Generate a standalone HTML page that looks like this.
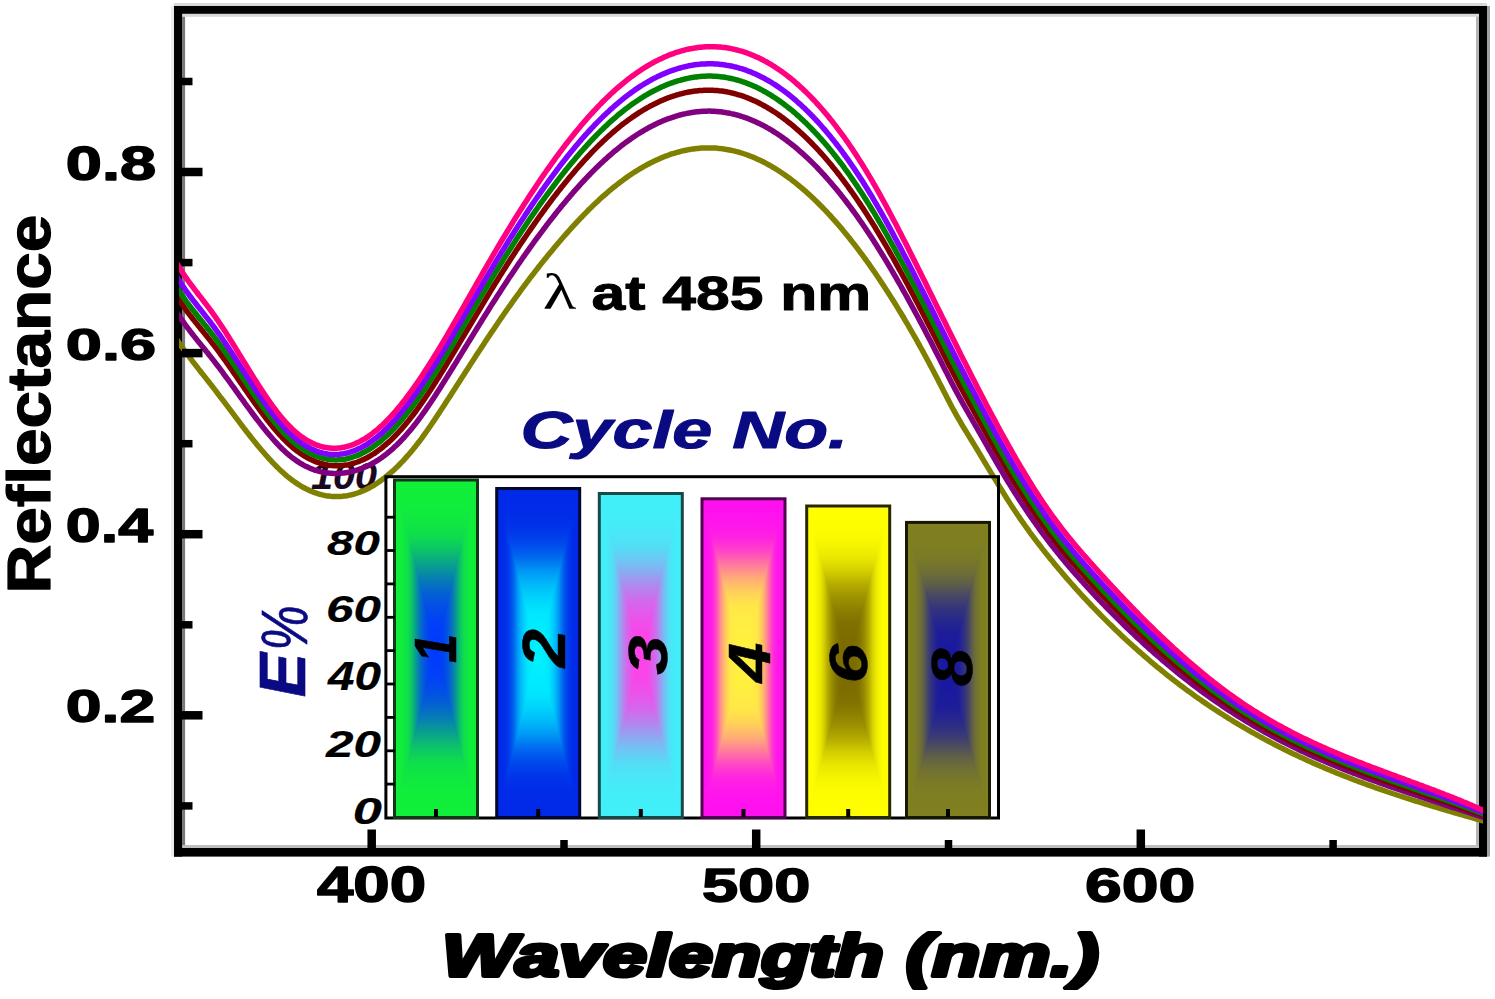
<!DOCTYPE html>
<html><head><meta charset="utf-8"><title>Reflectance</title>
<style>html,body{margin:0;padding:0;background:#fff;} svg{display:block;}</style></head>
<body><svg width="1495" height="999" viewBox="0 0 1495 999">
<rect width="1495" height="999" fill="#fff"/>
<defs><clipPath id="pc"><rect x="179" y="14" width="1304" height="834"/></clipPath>
<linearGradient id="g0H" gradientUnits="userSpaceOnUse" x1="394.50" y1="0" x2="477.50" y2="0"><stop offset="0.0000" stop-color="#10f038"/><stop offset="0.0417" stop-color="#10ee3a"/><stop offset="0.0833" stop-color="#10ed3b"/><stop offset="0.1250" stop-color="#0fe742"/><stop offset="0.1667" stop-color="#0edd4d"/><stop offset="0.2083" stop-color="#0cc369"/><stop offset="0.2500" stop-color="#09a28d"/><stop offset="0.2917" stop-color="#067fb2"/><stop offset="0.3333" stop-color="#0462d2"/><stop offset="0.3750" stop-color="#024fe6"/><stop offset="0.4167" stop-color="#0141f6"/><stop offset="0.4583" stop-color="#003cfa"/><stop offset="0.5000" stop-color="#0038ff"/><stop offset="0.5000" stop-color="#0038ff"/><stop offset="0.5417" stop-color="#003cfa"/><stop offset="0.5833" stop-color="#0141f6"/><stop offset="0.6250" stop-color="#024fe6"/><stop offset="0.6667" stop-color="#0462d2"/><stop offset="0.7083" stop-color="#067fb2"/><stop offset="0.7500" stop-color="#09a28d"/><stop offset="0.7917" stop-color="#0cc369"/><stop offset="0.8333" stop-color="#0edd4d"/><stop offset="0.8750" stop-color="#0fe742"/><stop offset="0.9167" stop-color="#10ed3b"/><stop offset="0.9583" stop-color="#10ee3a"/><stop offset="1.0000" stop-color="#10f038"/></linearGradient><linearGradient id="g0T" gradientUnits="userSpaceOnUse" x1="436.00" y1="480.00" x2="436.00" y2="648.75"><stop offset="0.0000" stop-color="#10f038"/><stop offset="0.0833" stop-color="#10ee3a"/><stop offset="0.1667" stop-color="#10ed3b"/><stop offset="0.2500" stop-color="#0fe742"/><stop offset="0.3333" stop-color="#0edd4d"/><stop offset="0.4167" stop-color="#0cc369"/><stop offset="0.5000" stop-color="#09a28d"/><stop offset="0.5833" stop-color="#067fb2"/><stop offset="0.6667" stop-color="#0462d2"/><stop offset="0.7500" stop-color="#024fe6"/><stop offset="0.8333" stop-color="#0141f6"/><stop offset="0.9167" stop-color="#003cfa"/><stop offset="1.0000" stop-color="#0038ff"/></linearGradient><linearGradient id="g0B" gradientUnits="userSpaceOnUse" x1="436.00" y1="817.50" x2="436.00" y2="648.75"><stop offset="0.0000" stop-color="#10f038"/><stop offset="0.0833" stop-color="#10ee3a"/><stop offset="0.1667" stop-color="#10ed3b"/><stop offset="0.2500" stop-color="#0fe742"/><stop offset="0.3333" stop-color="#0edd4d"/><stop offset="0.4167" stop-color="#0cc369"/><stop offset="0.5000" stop-color="#09a28d"/><stop offset="0.5833" stop-color="#067fb2"/><stop offset="0.6667" stop-color="#0462d2"/><stop offset="0.7500" stop-color="#024fe6"/><stop offset="0.8333" stop-color="#0141f6"/><stop offset="0.9167" stop-color="#003cfa"/><stop offset="1.0000" stop-color="#0038ff"/></linearGradient>
<linearGradient id="g1H" gradientUnits="userSpaceOnUse" x1="496.70" y1="0" x2="579.70" y2="0"><stop offset="0.0000" stop-color="#0028e8"/><stop offset="0.0417" stop-color="#002ae8"/><stop offset="0.0833" stop-color="#002ce8"/><stop offset="0.1250" stop-color="#0035ea"/><stop offset="0.1667" stop-color="#0048ec"/><stop offset="0.2083" stop-color="#0068ef"/><stop offset="0.2500" stop-color="#0096f5"/><stop offset="0.2917" stop-color="#00b9f9"/><stop offset="0.3333" stop-color="#00d3fc"/><stop offset="0.3750" stop-color="#00e6fe"/><stop offset="0.4167" stop-color="#00ebfe"/><stop offset="0.4583" stop-color="#00f0ff"/><stop offset="0.5000" stop-color="#00f0ff"/><stop offset="0.5000" stop-color="#00f0ff"/><stop offset="0.5417" stop-color="#00f0ff"/><stop offset="0.5833" stop-color="#00ebfe"/><stop offset="0.6250" stop-color="#00e6fe"/><stop offset="0.6667" stop-color="#00d3fc"/><stop offset="0.7083" stop-color="#00b9f9"/><stop offset="0.7500" stop-color="#0096f5"/><stop offset="0.7917" stop-color="#0068ef"/><stop offset="0.8333" stop-color="#0048ec"/><stop offset="0.8750" stop-color="#0035ea"/><stop offset="0.9167" stop-color="#002ce8"/><stop offset="0.9583" stop-color="#002ae8"/><stop offset="1.0000" stop-color="#0028e8"/></linearGradient><linearGradient id="g1T" gradientUnits="userSpaceOnUse" x1="538.20" y1="488.50" x2="538.20" y2="653.00"><stop offset="0.0000" stop-color="#0028e8"/><stop offset="0.0833" stop-color="#002ae8"/><stop offset="0.1667" stop-color="#002ce8"/><stop offset="0.2500" stop-color="#0035ea"/><stop offset="0.3333" stop-color="#0048ec"/><stop offset="0.4167" stop-color="#0068ef"/><stop offset="0.5000" stop-color="#0096f5"/><stop offset="0.5833" stop-color="#00b9f9"/><stop offset="0.6667" stop-color="#00d3fc"/><stop offset="0.7500" stop-color="#00e6fe"/><stop offset="0.8333" stop-color="#00ebfe"/><stop offset="0.9167" stop-color="#00f0ff"/><stop offset="1.0000" stop-color="#00f0ff"/></linearGradient><linearGradient id="g1B" gradientUnits="userSpaceOnUse" x1="538.20" y1="817.50" x2="538.20" y2="653.00"><stop offset="0.0000" stop-color="#0028e8"/><stop offset="0.0833" stop-color="#002ae8"/><stop offset="0.1667" stop-color="#002ce8"/><stop offset="0.2500" stop-color="#0035ea"/><stop offset="0.3333" stop-color="#0048ec"/><stop offset="0.4167" stop-color="#0068ef"/><stop offset="0.5000" stop-color="#0096f5"/><stop offset="0.5833" stop-color="#00b9f9"/><stop offset="0.6667" stop-color="#00d3fc"/><stop offset="0.7500" stop-color="#00e6fe"/><stop offset="0.8333" stop-color="#00ebfe"/><stop offset="0.9167" stop-color="#00f0ff"/><stop offset="1.0000" stop-color="#00f0ff"/></linearGradient>
<linearGradient id="g2H" gradientUnits="userSpaceOnUse" x1="599.30" y1="0" x2="682.30" y2="0"><stop offset="0.0000" stop-color="#40f0f8"/><stop offset="0.0417" stop-color="#42eff8"/><stop offset="0.0833" stop-color="#43edf8"/><stop offset="0.1250" stop-color="#4ae7f7"/><stop offset="0.1667" stop-color="#54ddf6"/><stop offset="0.2083" stop-color="#6fc5f4"/><stop offset="0.2500" stop-color="#91a5f1"/><stop offset="0.2917" stop-color="#b584ee"/><stop offset="0.3333" stop-color="#d468ec"/><stop offset="0.3750" stop-color="#e756ea"/><stop offset="0.4167" stop-color="#f648e9"/><stop offset="0.4583" stop-color="#fb44e8"/><stop offset="0.5000" stop-color="#ff40e8"/><stop offset="0.5000" stop-color="#ff40e8"/><stop offset="0.5417" stop-color="#fb44e8"/><stop offset="0.5833" stop-color="#f648e9"/><stop offset="0.6250" stop-color="#e756ea"/><stop offset="0.6667" stop-color="#d468ec"/><stop offset="0.7083" stop-color="#b584ee"/><stop offset="0.7500" stop-color="#91a5f1"/><stop offset="0.7917" stop-color="#6fc5f4"/><stop offset="0.8333" stop-color="#54ddf6"/><stop offset="0.8750" stop-color="#4ae7f7"/><stop offset="0.9167" stop-color="#43edf8"/><stop offset="0.9583" stop-color="#42eff8"/><stop offset="1.0000" stop-color="#40f0f8"/></linearGradient><linearGradient id="g2T" gradientUnits="userSpaceOnUse" x1="640.80" y1="493.50" x2="640.80" y2="655.50"><stop offset="0.0000" stop-color="#40f0f8"/><stop offset="0.0833" stop-color="#42eff8"/><stop offset="0.1667" stop-color="#43edf8"/><stop offset="0.2500" stop-color="#4ae7f7"/><stop offset="0.3333" stop-color="#54ddf6"/><stop offset="0.4167" stop-color="#6fc5f4"/><stop offset="0.5000" stop-color="#91a5f1"/><stop offset="0.5833" stop-color="#b584ee"/><stop offset="0.6667" stop-color="#d468ec"/><stop offset="0.7500" stop-color="#e756ea"/><stop offset="0.8333" stop-color="#f648e9"/><stop offset="0.9167" stop-color="#fb44e8"/><stop offset="1.0000" stop-color="#ff40e8"/></linearGradient><linearGradient id="g2B" gradientUnits="userSpaceOnUse" x1="640.80" y1="817.50" x2="640.80" y2="655.50"><stop offset="0.0000" stop-color="#40f0f8"/><stop offset="0.0833" stop-color="#42eff8"/><stop offset="0.1667" stop-color="#43edf8"/><stop offset="0.2500" stop-color="#4ae7f7"/><stop offset="0.3333" stop-color="#54ddf6"/><stop offset="0.4167" stop-color="#6fc5f4"/><stop offset="0.5000" stop-color="#91a5f1"/><stop offset="0.5833" stop-color="#b584ee"/><stop offset="0.6667" stop-color="#d468ec"/><stop offset="0.7500" stop-color="#e756ea"/><stop offset="0.8333" stop-color="#f648e9"/><stop offset="0.9167" stop-color="#fb44e8"/><stop offset="1.0000" stop-color="#ff40e8"/></linearGradient>
<linearGradient id="g3H" gradientUnits="userSpaceOnUse" x1="702.00" y1="0" x2="785.00" y2="0"><stop offset="0.0000" stop-color="#ff10f0"/><stop offset="0.0417" stop-color="#ff12ee"/><stop offset="0.0833" stop-color="#ff16ec"/><stop offset="0.1250" stop-color="#ff24e0"/><stop offset="0.1667" stop-color="#ff47c5"/><stop offset="0.2083" stop-color="#ff7b9c"/><stop offset="0.2500" stop-color="#ffac76"/><stop offset="0.2917" stop-color="#ffcf5a"/><stop offset="0.3333" stop-color="#ffe648"/><stop offset="0.3750" stop-color="#ffec43"/><stop offset="0.4167" stop-color="#fff040"/><stop offset="0.4583" stop-color="#fff040"/><stop offset="0.5000" stop-color="#fff040"/><stop offset="0.5000" stop-color="#fff040"/><stop offset="0.5417" stop-color="#fff040"/><stop offset="0.5833" stop-color="#fff040"/><stop offset="0.6250" stop-color="#ffec43"/><stop offset="0.6667" stop-color="#ffe648"/><stop offset="0.7083" stop-color="#ffcf5a"/><stop offset="0.7500" stop-color="#ffac76"/><stop offset="0.7917" stop-color="#ff7b9c"/><stop offset="0.8333" stop-color="#ff47c5"/><stop offset="0.8750" stop-color="#ff24e0"/><stop offset="0.9167" stop-color="#ff16ec"/><stop offset="0.9583" stop-color="#ff12ee"/><stop offset="1.0000" stop-color="#ff10f0"/></linearGradient><linearGradient id="g3T" gradientUnits="userSpaceOnUse" x1="743.50" y1="498.80" x2="743.50" y2="658.15"><stop offset="0.0000" stop-color="#ff10f0"/><stop offset="0.0833" stop-color="#ff12ee"/><stop offset="0.1667" stop-color="#ff16ec"/><stop offset="0.2500" stop-color="#ff24e0"/><stop offset="0.3333" stop-color="#ff47c5"/><stop offset="0.4167" stop-color="#ff7b9c"/><stop offset="0.5000" stop-color="#ffac76"/><stop offset="0.5833" stop-color="#ffcf5a"/><stop offset="0.6667" stop-color="#ffe648"/><stop offset="0.7500" stop-color="#ffec43"/><stop offset="0.8333" stop-color="#fff040"/><stop offset="0.9167" stop-color="#fff040"/><stop offset="1.0000" stop-color="#fff040"/></linearGradient><linearGradient id="g3B" gradientUnits="userSpaceOnUse" x1="743.50" y1="817.50" x2="743.50" y2="658.15"><stop offset="0.0000" stop-color="#ff10f0"/><stop offset="0.0833" stop-color="#ff12ee"/><stop offset="0.1667" stop-color="#ff16ec"/><stop offset="0.2500" stop-color="#ff24e0"/><stop offset="0.3333" stop-color="#ff47c5"/><stop offset="0.4167" stop-color="#ff7b9c"/><stop offset="0.5000" stop-color="#ffac76"/><stop offset="0.5833" stop-color="#ffcf5a"/><stop offset="0.6667" stop-color="#ffe648"/><stop offset="0.7500" stop-color="#ffec43"/><stop offset="0.8333" stop-color="#fff040"/><stop offset="0.9167" stop-color="#fff040"/><stop offset="1.0000" stop-color="#fff040"/></linearGradient>
<linearGradient id="g4H" gradientUnits="userSpaceOnUse" x1="806.70" y1="0" x2="889.70" y2="0"><stop offset="0.0000" stop-color="#ffff00"/><stop offset="0.0417" stop-color="#fefe00"/><stop offset="0.0833" stop-color="#fdfc00"/><stop offset="0.1250" stop-color="#f6f500"/><stop offset="0.1667" stop-color="#eae700"/><stop offset="0.2083" stop-color="#d4cf00"/><stop offset="0.2500" stop-color="#b6ad00"/><stop offset="0.2917" stop-color="#9e9300"/><stop offset="0.3333" stop-color="#8d7f00"/><stop offset="0.3750" stop-color="#807100"/><stop offset="0.4167" stop-color="#7d6d00"/><stop offset="0.4583" stop-color="#7a6a00"/><stop offset="0.5000" stop-color="#7a6a00"/><stop offset="0.5000" stop-color="#7a6a00"/><stop offset="0.5417" stop-color="#7a6a00"/><stop offset="0.5833" stop-color="#7d6d00"/><stop offset="0.6250" stop-color="#807100"/><stop offset="0.6667" stop-color="#8d7f00"/><stop offset="0.7083" stop-color="#9e9300"/><stop offset="0.7500" stop-color="#b6ad00"/><stop offset="0.7917" stop-color="#d4cf00"/><stop offset="0.8333" stop-color="#eae700"/><stop offset="0.8750" stop-color="#f6f500"/><stop offset="0.9167" stop-color="#fdfc00"/><stop offset="0.9583" stop-color="#fefe00"/><stop offset="1.0000" stop-color="#ffff00"/></linearGradient><linearGradient id="g4T" gradientUnits="userSpaceOnUse" x1="848.20" y1="506.00" x2="848.20" y2="661.75"><stop offset="0.0000" stop-color="#ffff00"/><stop offset="0.0833" stop-color="#fefe00"/><stop offset="0.1667" stop-color="#fdfc00"/><stop offset="0.2500" stop-color="#f6f500"/><stop offset="0.3333" stop-color="#eae700"/><stop offset="0.4167" stop-color="#d4cf00"/><stop offset="0.5000" stop-color="#b6ad00"/><stop offset="0.5833" stop-color="#9e9300"/><stop offset="0.6667" stop-color="#8d7f00"/><stop offset="0.7500" stop-color="#807100"/><stop offset="0.8333" stop-color="#7d6d00"/><stop offset="0.9167" stop-color="#7a6a00"/><stop offset="1.0000" stop-color="#7a6a00"/></linearGradient><linearGradient id="g4B" gradientUnits="userSpaceOnUse" x1="848.20" y1="817.50" x2="848.20" y2="661.75"><stop offset="0.0000" stop-color="#ffff00"/><stop offset="0.0833" stop-color="#fefe00"/><stop offset="0.1667" stop-color="#fdfc00"/><stop offset="0.2500" stop-color="#f6f500"/><stop offset="0.3333" stop-color="#eae700"/><stop offset="0.4167" stop-color="#d4cf00"/><stop offset="0.5000" stop-color="#b6ad00"/><stop offset="0.5833" stop-color="#9e9300"/><stop offset="0.6667" stop-color="#8d7f00"/><stop offset="0.7500" stop-color="#807100"/><stop offset="0.8333" stop-color="#7d6d00"/><stop offset="0.9167" stop-color="#7a6a00"/><stop offset="1.0000" stop-color="#7a6a00"/></linearGradient>
<linearGradient id="g5H" gradientUnits="userSpaceOnUse" x1="906.50" y1="0" x2="989.50" y2="0"><stop offset="0.0000" stop-color="#808020"/><stop offset="0.0417" stop-color="#7f7f21"/><stop offset="0.0833" stop-color="#7e7e22"/><stop offset="0.1250" stop-color="#797928"/><stop offset="0.1667" stop-color="#6f6f35"/><stop offset="0.2083" stop-color="#5f5f49"/><stop offset="0.2500" stop-color="#474766"/><stop offset="0.2917" stop-color="#34347d"/><stop offset="0.3333" stop-color="#27278e"/><stop offset="0.3750" stop-color="#1d1d9a"/><stop offset="0.4167" stop-color="#1a1a9d"/><stop offset="0.4583" stop-color="#1818a0"/><stop offset="0.5000" stop-color="#1818a0"/><stop offset="0.5000" stop-color="#1818a0"/><stop offset="0.5417" stop-color="#1818a0"/><stop offset="0.5833" stop-color="#1a1a9d"/><stop offset="0.6250" stop-color="#1d1d9a"/><stop offset="0.6667" stop-color="#27278e"/><stop offset="0.7083" stop-color="#34347d"/><stop offset="0.7500" stop-color="#474766"/><stop offset="0.7917" stop-color="#5f5f49"/><stop offset="0.8333" stop-color="#6f6f35"/><stop offset="0.8750" stop-color="#797928"/><stop offset="0.9167" stop-color="#7e7e22"/><stop offset="0.9583" stop-color="#7f7f21"/><stop offset="1.0000" stop-color="#808020"/></linearGradient><linearGradient id="g5T" gradientUnits="userSpaceOnUse" x1="948.00" y1="522.40" x2="948.00" y2="669.95"><stop offset="0.0000" stop-color="#808020"/><stop offset="0.0833" stop-color="#7f7f21"/><stop offset="0.1667" stop-color="#7e7e22"/><stop offset="0.2500" stop-color="#797928"/><stop offset="0.3333" stop-color="#6f6f35"/><stop offset="0.4167" stop-color="#5f5f49"/><stop offset="0.5000" stop-color="#474766"/><stop offset="0.5833" stop-color="#34347d"/><stop offset="0.6667" stop-color="#27278e"/><stop offset="0.7500" stop-color="#1d1d9a"/><stop offset="0.8333" stop-color="#1a1a9d"/><stop offset="0.9167" stop-color="#1818a0"/><stop offset="1.0000" stop-color="#1818a0"/></linearGradient><linearGradient id="g5B" gradientUnits="userSpaceOnUse" x1="948.00" y1="817.50" x2="948.00" y2="669.95"><stop offset="0.0000" stop-color="#808020"/><stop offset="0.0833" stop-color="#7f7f21"/><stop offset="0.1667" stop-color="#7e7e22"/><stop offset="0.2500" stop-color="#797928"/><stop offset="0.3333" stop-color="#6f6f35"/><stop offset="0.4167" stop-color="#5f5f49"/><stop offset="0.5000" stop-color="#474766"/><stop offset="0.5833" stop-color="#34347d"/><stop offset="0.6667" stop-color="#27278e"/><stop offset="0.7500" stop-color="#1d1d9a"/><stop offset="0.8333" stop-color="#1a1a9d"/><stop offset="0.9167" stop-color="#1818a0"/><stop offset="1.0000" stop-color="#1818a0"/></linearGradient>
</defs>
<g transform="matrix(1.01562,0,0,1.04167,-5.891,-20.375)"><text transform="matrix(0.38852,0,0,0.35063,312.097,488.562)" font-family='"Liberation Sans", sans-serif' font-weight="bold" font-style="italic" font-size="100" fill="#1a0820" stroke="#1a0820" stroke-width="0.5" stroke-linejoin="round">100</text></g>
<rect x="171" y="6" width="3" height="850.6" fill="#ececec"/>
<rect x="182.1" y="14" width="3" height="834" fill="#7a7a7a"/>
<rect x="1476" y="14" width="3" height="834" fill="#b4b4b4"/>
<rect x="1487" y="6" width="3" height="850.6" fill="#a0a0a0"/>
<rect x="174" y="3" width="1313" height="3" fill="#d8d8d8"/>
<rect x="182" y="13.8" width="1297" height="3" fill="#d8d8d8"/>
<rect x="182" y="845" width="1297" height="3" fill="#bebebe"/>
<rect x="174" y="6" width="1313" height="7.8" fill="#000"/>
<rect x="174" y="848" width="1313" height="8.6" fill="#000"/>
<rect x="174" y="6" width="8.1" height="850.6" fill="#000"/>
<rect x="1479" y="6" width="8" height="850.6" fill="#000"/>
<g clip-path="url(#pc)" fill="none" stroke-width="5.5" stroke-linejoin="round">
<polyline stroke="#808000" points="170.0,329.2 171.5,331.6 173.0,333.9 174.5,336.2 176.0,338.4 177.5,340.6 179.0,342.8 180.5,345.0 182.0,347.1 183.5,349.2 185.0,351.2 186.5,353.2 188.0,355.2 189.5,357.2 191.0,359.2 192.5,361.2 194.0,363.1 195.5,365.0 197.0,366.9 198.5,368.9 200.0,370.8 201.5,372.7 203.0,374.6 204.5,376.5 206.0,378.3 207.5,380.3 209.0,382.2 210.5,384.1 212.0,386.0 213.5,387.9 215.0,389.9 216.5,391.8 218.0,393.8 219.5,395.8 221.0,397.8 222.5,399.7 224.0,401.7 225.5,403.7 227.0,405.7 228.5,407.7 230.0,409.7 231.5,411.7 233.0,413.7 234.5,415.7 236.0,417.7 237.5,419.7 239.0,421.7 240.5,423.7 242.0,425.6 243.5,427.6 245.0,429.5 246.5,431.5 248.0,433.4 249.5,435.3 251.0,437.2 252.5,439.1 254.0,441.0 255.5,442.8 257.0,444.7 258.5,446.5 260.0,448.3 261.5,450.1 263.0,451.8 264.5,453.5 266.0,455.2 267.5,456.9 269.0,458.6 270.5,460.2 272.0,461.8 273.5,463.4 275.0,464.9 276.5,466.5 278.0,467.9 279.5,469.4 281.0,470.8 282.5,472.2 284.0,473.5 285.5,474.8 287.0,476.1 288.5,477.3 290.0,478.5 291.5,479.7 293.0,480.8 294.5,481.9 296.0,482.9 297.5,483.9 299.0,484.8 300.5,485.8 302.0,486.7 303.5,487.5 305.0,488.3 306.5,489.1 308.0,489.8 309.5,490.5 311.0,491.2 312.5,491.8 314.0,492.4 315.5,492.9 317.0,493.4 318.5,493.9 320.0,494.3 321.5,494.7 323.0,495.1 324.5,495.4 326.0,495.7 327.5,495.9 329.0,496.1 330.5,496.3 332.0,496.4 333.5,496.5 335.0,496.6 336.5,496.6 338.0,496.6 339.5,496.5 341.0,496.4 342.5,496.3 344.0,496.1 345.5,495.9 347.0,495.7 348.5,495.4 350.0,495.1 351.5,494.8 353.0,494.4 354.5,494.0 356.0,493.5 357.5,493.0 359.0,492.5 360.5,491.9 362.0,491.3 363.5,490.7 365.0,490.0 366.5,489.3 368.0,488.5 369.5,487.7 371.0,486.9 372.5,486.0 374.0,485.2 375.5,484.2 377.0,483.3 378.5,482.3 380.0,481.2 381.5,480.1 383.0,479.0 384.5,477.9 386.0,476.7 387.5,475.5 389.0,474.2 390.5,473.0 392.0,471.6 393.5,470.3 395.0,468.9 396.5,467.4 398.0,466.0 399.5,464.5 401.0,462.9 402.5,461.4 404.0,459.8 405.5,458.1 407.0,456.4 408.5,454.7 410.0,453.0 411.5,451.2 413.0,449.4 414.5,447.5 416.0,445.7 417.5,443.7 419.0,441.8 420.5,439.8 422.0,437.8 423.5,435.7 425.0,433.6 426.5,431.5 428.0,429.4 429.5,427.2 431.0,425.0 432.5,422.8 434.0,420.6 435.5,418.4 437.0,416.1 438.5,413.9 440.0,411.6 441.5,409.3 443.0,407.0 444.5,404.7 446.0,402.3 447.5,400.0 449.0,397.7 450.5,395.4 452.0,393.0 453.5,390.7 455.0,388.4 456.5,386.0 458.0,383.7 459.5,381.4 461.0,379.0 462.5,376.7 464.0,374.4 465.5,372.0 467.0,369.7 468.5,367.4 470.0,365.1 471.5,362.8 473.0,360.5 474.5,358.2 476.0,355.8 477.5,353.5 479.0,351.3 480.5,349.0 482.0,346.7 483.5,344.4 485.0,342.1 486.5,339.9 488.0,337.6 489.5,335.4 491.0,333.1 492.5,330.9 494.0,328.7 495.5,326.4 497.0,324.2 498.5,322.0 500.0,319.8 501.5,317.6 503.0,315.5 504.5,313.3 506.0,311.1 507.5,309.0 509.0,306.9 510.5,304.8 512.0,302.6 513.5,300.5 515.0,298.5 516.5,296.4 518.0,294.3 519.5,292.3 521.0,290.2 522.5,288.2 524.0,286.2 525.5,284.1 527.0,282.1 528.5,280.2 530.0,278.2 531.5,276.2 533.0,274.3 534.5,272.3 536.0,270.4 537.5,268.5 539.0,266.5 540.5,264.6 542.0,262.8 543.5,260.9 545.0,259.0 546.5,257.2 548.0,255.3 549.5,253.5 551.0,251.7 552.5,249.9 554.0,248.1 555.5,246.3 557.0,244.5 558.5,242.7 560.0,241.0 561.5,239.2 563.0,237.5 564.5,235.8 566.0,234.1 567.5,232.4 569.0,230.7 570.5,229.0 572.0,227.4 573.5,225.7 575.0,224.1 576.5,222.5 578.0,220.9 579.5,219.3 581.0,217.7 582.5,216.2 584.0,214.6 585.5,213.1 587.0,211.6 588.5,210.0 590.0,208.6 591.5,207.1 593.0,205.6 594.5,204.2 596.0,202.8 597.5,201.4 599.0,200.0 600.5,198.6 602.0,197.2 603.5,195.9 605.0,194.6 606.5,193.3 608.0,192.0 609.5,190.7 611.0,189.5 612.5,188.2 614.0,187.0 615.5,185.8 617.0,184.6 618.5,183.5 620.0,182.3 621.5,181.2 623.0,180.1 624.5,179.0 626.0,177.9 627.5,176.9 629.0,175.8 630.5,174.8 632.0,173.8 633.5,172.8 635.0,171.8 636.5,170.9 638.0,170.0 639.5,169.0 641.0,168.2 642.5,167.3 644.0,166.4 645.5,165.6 647.0,164.8 648.5,164.0 650.0,163.2 651.5,162.4 653.0,161.7 654.5,160.9 656.0,160.2 657.5,159.6 659.0,158.9 660.5,158.2 662.0,157.6 663.5,157.0 665.0,156.4 666.5,155.8 668.0,155.3 669.5,154.7 671.0,154.2 672.5,153.7 674.0,153.3 675.5,152.8 677.0,152.4 678.5,152.0 680.0,151.6 681.5,151.2 683.0,150.8 684.5,150.5 686.0,150.2 687.5,149.9 689.0,149.6 690.5,149.4 692.0,149.1 693.5,148.9 695.0,148.7 696.5,148.5 698.0,148.4 699.5,148.2 701.0,148.1 702.5,148.0 704.0,148.0 705.5,147.9 707.0,147.9 708.5,147.9 710.0,147.9 711.5,147.9 713.0,148.0 714.5,148.0 716.0,148.1 717.5,148.3 719.0,148.4 720.5,148.6 722.0,148.7 723.5,148.9 725.0,149.2 726.5,149.4 728.0,149.7 729.5,150.0 731.0,150.3 732.5,150.6 734.0,150.9 735.5,151.3 737.0,151.7 738.5,152.1 740.0,152.5 741.5,153.0 743.0,153.5 744.5,154.0 746.0,154.5 747.5,155.0 749.0,155.6 750.5,156.2 752.0,156.8 753.5,157.4 755.0,158.0 756.5,158.7 758.0,159.4 759.5,160.1 761.0,160.8 762.5,161.5 764.0,162.3 765.5,163.1 767.0,163.9 768.5,164.7 770.0,165.5 771.5,166.4 773.0,167.3 774.5,168.2 776.0,169.1 777.5,170.0 779.0,171.0 780.5,172.0 782.0,173.0 783.5,174.0 785.0,175.1 786.5,176.1 788.0,177.2 789.5,178.3 791.0,179.4 792.5,180.6 794.0,181.7 795.5,182.9 797.0,184.1 798.5,185.3 800.0,186.6 801.5,187.8 803.0,189.1 804.5,190.4 806.0,191.7 807.5,193.1 809.0,194.4 810.5,195.8 812.0,197.2 813.5,198.6 815.0,200.1 816.5,201.5 818.0,203.0 819.5,204.5 821.0,206.0 822.5,207.5 824.0,209.1 825.5,210.6 827.0,212.2 828.5,213.8 830.0,215.4 831.5,217.1 833.0,218.8 834.5,220.4 836.0,222.1 837.5,223.8 839.0,225.6 840.5,227.3 842.0,229.1 843.5,230.9 845.0,232.7 846.5,234.6 848.0,236.4 849.5,238.3 851.0,240.2 852.5,242.1 854.0,244.0 855.5,245.9 857.0,247.9 858.5,249.9 860.0,251.9 861.5,253.9 863.0,255.9 864.5,258.0 866.0,260.0 867.5,262.1 869.0,264.2 870.5,266.3 872.0,268.5 873.5,270.6 875.0,272.8 876.5,275.0 878.0,277.2 879.5,279.5 881.0,281.7 882.5,284.0 884.0,286.2 885.5,288.6 887.0,290.9 888.5,293.2 890.0,295.6 891.5,297.9 893.0,300.3 894.5,302.7 896.0,305.2 897.5,307.6 899.0,310.1 900.5,312.5 902.0,315.0 903.5,317.5 905.0,320.1 906.5,322.6 908.0,325.2 909.5,327.8 911.0,330.4 912.5,333.0 914.0,335.6 915.5,338.2 917.0,340.9 918.5,343.6 920.0,346.3 921.5,349.0 923.0,351.7 924.5,354.5 926.0,357.3 927.5,360.0 929.0,362.8 930.5,365.7 932.0,368.5 933.5,371.3 935.0,374.2 936.5,377.1 938.0,380.0 939.5,382.9 941.0,385.8 942.5,388.8 944.0,391.7 945.5,394.6 947.0,397.6 948.5,400.4 950.0,403.3 951.5,406.2 953.0,409.0 954.5,411.7 956.0,414.4 957.5,417.1 959.0,419.7 960.5,422.2 962.0,424.8 963.5,427.3 965.0,429.7 966.5,432.2 968.0,434.7 969.5,437.1 971.0,439.5 972.5,442.0 974.0,444.4 975.5,446.9 977.0,449.3 978.5,451.8 980.0,454.3 981.5,456.8 983.0,459.3 984.5,461.8 986.0,464.3 987.5,466.8 989.0,469.3 990.5,471.8 992.0,474.3 993.5,476.7 995.0,479.2 996.5,481.7 998.0,484.2 999.5,486.6 1001.0,489.0 1002.5,491.5 1004.0,493.9 1005.5,496.3 1007.0,498.7 1008.5,501.0 1010.0,503.4 1011.5,505.7 1013.0,508.0 1014.5,510.2 1016.0,512.5 1017.5,514.7 1019.0,516.9 1020.5,519.1 1022.0,521.3 1023.5,523.4 1025.0,525.5 1026.5,527.6 1028.0,529.7 1029.5,531.8 1031.0,533.8 1032.5,535.8 1034.0,537.8 1035.5,539.8 1037.0,541.8 1038.5,543.8 1040.0,545.7 1041.5,547.7 1043.0,549.6 1044.5,551.5 1046.0,553.4 1047.5,555.3 1049.0,557.1 1050.5,559.0 1052.0,560.8 1053.5,562.6 1055.0,564.5 1056.5,566.3 1058.0,568.1 1059.5,569.8 1061.0,571.6 1062.5,573.4 1064.0,575.1 1065.5,576.9 1067.0,578.6 1068.5,580.3 1070.0,582.0 1071.5,583.7 1073.0,585.4 1074.5,587.1 1076.0,588.8 1077.5,590.4 1079.0,592.1 1080.5,593.7 1082.0,595.4 1083.5,597.0 1085.0,598.6 1086.5,600.2 1088.0,601.8 1089.5,603.4 1091.0,605.0 1092.5,606.6 1094.0,608.1 1095.5,609.7 1097.0,611.3 1098.5,612.8 1100.0,614.3 1101.5,615.9 1103.0,617.4 1104.5,618.9 1106.0,620.4 1107.5,621.9 1109.0,623.4 1110.5,624.8 1112.0,626.3 1113.5,627.8 1115.0,629.2 1116.5,630.7 1118.0,632.1 1119.5,633.5 1121.0,635.0 1122.5,636.4 1124.0,637.8 1125.5,639.2 1127.0,640.6 1128.5,641.9 1130.0,643.3 1131.5,644.7 1133.0,646.0 1134.5,647.4 1136.0,648.7 1137.5,650.1 1139.0,651.4 1140.5,652.7 1142.0,654.0 1143.5,655.3 1145.0,656.6 1146.5,657.9 1148.0,659.2 1149.5,660.5 1151.0,661.8 1152.5,663.0 1154.0,664.3 1155.5,665.5 1157.0,666.8 1158.5,668.0 1160.0,669.2 1161.5,670.5 1163.0,671.7 1164.5,672.9 1166.0,674.1 1167.5,675.3 1169.0,676.5 1170.5,677.6 1172.0,678.8 1173.5,680.0 1175.0,681.1 1176.5,682.3 1178.0,683.4 1179.5,684.6 1181.0,685.7 1182.5,686.8 1184.0,687.9 1185.5,689.1 1187.0,690.2 1188.5,691.3 1190.0,692.3 1191.5,693.4 1193.0,694.5 1194.5,695.6 1196.0,696.7 1197.5,697.7 1199.0,698.8 1200.5,699.8 1202.0,700.9 1203.5,701.9 1205.0,702.9 1206.5,703.9 1208.0,705.0 1209.5,706.0 1211.0,707.0 1212.5,708.0 1214.0,709.0 1215.5,710.0 1217.0,710.9 1218.5,711.9 1220.0,712.9 1221.5,713.8 1223.0,714.8 1224.5,715.8 1226.0,716.7 1227.5,717.6 1229.0,718.6 1230.5,719.5 1232.0,720.4 1233.5,721.4 1235.0,722.3 1236.5,723.2 1238.0,724.1 1239.5,725.0 1241.0,725.9 1242.5,726.7 1244.0,727.6 1245.5,728.5 1247.0,729.4 1248.5,730.2 1250.0,731.1 1251.5,732.0 1253.0,732.8 1254.5,733.6 1256.0,734.5 1257.5,735.3 1259.0,736.1 1260.5,737.0 1262.0,737.8 1263.5,738.6 1265.0,739.4 1266.5,740.2 1268.0,741.0 1269.5,741.8 1271.0,742.6 1272.5,743.4 1274.0,744.2 1275.5,744.9 1277.0,745.7 1278.5,746.5 1280.0,747.2 1281.5,748.0 1283.0,748.7 1284.5,749.5 1286.0,750.2 1287.5,751.0 1289.0,751.7 1290.5,752.4 1292.0,753.2 1293.5,753.9 1295.0,754.6 1296.5,755.3 1298.0,756.0 1299.5,756.7 1301.0,757.4 1302.5,758.1 1304.0,758.8 1305.5,759.5 1307.0,760.2 1308.5,760.9 1310.0,761.5 1311.5,762.2 1313.0,762.9 1314.5,763.6 1316.0,764.2 1317.5,764.9 1319.0,765.5 1320.5,766.2 1322.0,766.8 1323.5,767.5 1325.0,768.1 1326.5,768.7 1328.0,769.4 1329.5,770.0 1331.0,770.6 1332.5,771.2 1334.0,771.8 1335.5,772.5 1337.0,773.1 1338.5,773.7 1340.0,774.3 1341.5,774.9 1343.0,775.5 1344.5,776.1 1346.0,776.7 1347.5,777.2 1349.0,777.8 1350.5,778.4 1352.0,779.0 1353.5,779.6 1355.0,780.1 1356.5,780.7 1358.0,781.3 1359.5,781.8 1361.0,782.4 1362.5,782.9 1364.0,783.5 1365.5,784.0 1367.0,784.6 1368.5,785.1 1370.0,785.7 1371.5,786.2 1373.0,786.7 1374.5,787.3 1376.0,787.8 1377.5,788.3 1379.0,788.9 1380.5,789.4 1382.0,789.9 1383.5,790.4 1385.0,790.9 1386.5,791.5 1388.0,792.0 1389.5,792.5 1391.0,793.0 1392.5,793.5 1394.0,794.0 1395.5,794.5 1397.0,795.0 1398.5,795.5 1400.0,796.0 1401.5,796.5 1403.0,796.9 1404.5,797.4 1406.0,797.9 1407.5,798.4 1409.0,798.9 1410.5,799.4 1412.0,799.8 1413.5,800.3 1415.0,800.8 1416.5,801.3 1418.0,801.7 1419.5,802.2 1421.0,802.7 1422.5,803.1 1424.0,803.6 1425.5,804.1 1427.0,804.5 1428.5,805.0 1430.0,805.4 1431.5,805.9 1433.0,806.3 1434.5,806.8 1436.0,807.2 1437.5,807.7 1439.0,808.1 1440.5,808.6 1442.0,809.0 1443.5,809.5 1445.0,809.9 1446.5,810.4 1448.0,810.8 1449.5,811.2 1451.0,811.7 1452.5,812.1 1454.0,812.6 1455.5,813.0 1457.0,813.4 1458.5,813.9 1460.0,814.3 1461.5,814.7 1463.0,815.2 1464.5,815.6 1466.0,816.0 1467.5,816.4 1469.0,816.9 1470.5,817.3 1472.0,817.7 1473.5,818.2 1475.0,818.6 1476.5,819.0 1478.0,819.4 1479.5,819.9 1481.0,820.3 1482.5,820.7 1484.0,821.1 1485.5,821.5 1487.0,822.0 1488.5,822.4 1490.0,822.8 1491.5,823.2 1493.0,823.7 1494.5,824.1"/>
<polyline stroke="#800080" points="170.0,301.4 171.5,303.9 173.0,306.4 174.5,308.8 176.0,311.2 177.5,313.5 179.0,315.8 180.5,318.0 182.0,320.1 183.5,322.2 185.0,324.3 186.5,326.4 188.0,328.4 189.5,330.3 191.0,332.3 192.5,334.2 194.0,336.1 195.5,338.0 197.0,339.9 198.5,341.7 200.0,343.6 201.5,345.4 203.0,347.3 204.5,349.1 206.0,351.0 207.5,352.8 209.0,354.7 210.5,356.6 212.0,358.5 213.5,360.4 215.0,362.3 216.5,364.3 218.0,366.2 219.5,368.2 221.0,370.2 222.5,372.2 224.0,374.3 225.5,376.3 227.0,378.4 228.5,380.4 230.0,382.5 231.5,384.6 233.0,386.6 234.5,388.7 236.0,390.8 237.5,392.9 239.0,395.0 240.5,397.1 242.0,399.1 243.5,401.2 245.0,403.3 246.5,405.3 248.0,407.4 249.5,409.4 251.0,411.5 252.5,413.5 254.0,415.5 255.5,417.5 257.0,419.5 258.5,421.4 260.0,423.4 261.5,425.3 263.0,427.2 264.5,429.1 266.0,430.9 267.5,432.7 269.0,434.5 270.5,436.3 272.0,438.0 273.5,439.7 275.0,441.4 276.5,443.0 278.0,444.6 279.5,446.2 281.0,447.7 282.5,449.2 284.0,450.6 285.5,452.0 287.0,453.3 288.5,454.6 290.0,455.9 291.5,457.1 293.0,458.2 294.5,459.3 296.0,460.4 297.5,461.4 299.0,462.4 300.5,463.3 302.0,464.2 303.5,465.1 305.0,465.9 306.5,466.6 308.0,467.3 309.5,468.0 311.0,468.6 312.5,469.2 314.0,469.8 315.5,470.3 317.0,470.7 318.5,471.2 320.0,471.6 321.5,471.9 323.0,472.2 324.5,472.5 326.0,472.7 327.5,472.9 329.0,473.1 330.5,473.2 332.0,473.3 333.5,473.4 335.0,473.4 336.5,473.4 338.0,473.4 339.5,473.3 341.0,473.2 342.5,473.1 344.0,472.9 345.5,472.7 347.0,472.5 348.5,472.2 350.0,471.9 351.5,471.5 353.0,471.2 354.5,470.8 356.0,470.3 357.5,469.9 359.0,469.4 360.5,468.8 362.0,468.3 363.5,467.7 365.0,467.0 366.5,466.4 368.0,465.7 369.5,464.9 371.0,464.2 372.5,463.3 374.0,462.5 375.5,461.6 377.0,460.7 378.5,459.7 380.0,458.7 381.5,457.7 383.0,456.6 384.5,455.5 386.0,454.4 387.5,453.2 389.0,451.9 390.5,450.7 392.0,449.4 393.5,448.0 395.0,446.6 396.5,445.2 398.0,443.7 399.5,442.2 401.0,440.7 402.5,439.1 404.0,437.5 405.5,435.8 407.0,434.1 408.5,432.3 410.0,430.6 411.5,428.7 413.0,426.9 414.5,425.0 416.0,423.1 417.5,421.1 419.0,419.1 420.5,417.1 422.0,415.0 423.5,412.9 425.0,410.8 426.5,408.6 428.0,406.4 429.5,404.2 431.0,402.0 432.5,399.7 434.0,397.5 435.5,395.2 437.0,392.8 438.5,390.5 440.0,388.2 441.5,385.8 443.0,383.4 444.5,381.0 446.0,378.6 447.5,376.2 449.0,373.8 450.5,371.4 452.0,369.0 453.5,366.5 455.0,364.1 456.5,361.7 458.0,359.2 459.5,356.8 461.0,354.4 462.5,351.9 464.0,349.5 465.5,347.0 467.0,344.6 468.5,342.1 470.0,339.7 471.5,337.3 473.0,334.8 474.5,332.4 476.0,330.0 477.5,327.5 479.0,325.1 480.5,322.7 482.0,320.3 483.5,317.9 485.0,315.5 486.5,313.1 488.0,310.7 489.5,308.3 491.0,305.9 492.5,303.6 494.0,301.2 495.5,298.9 497.0,296.5 498.5,294.2 500.0,291.9 501.5,289.6 503.0,287.2 504.5,285.0 506.0,282.7 507.5,280.4 509.0,278.1 510.5,275.9 512.0,273.7 513.5,271.4 515.0,269.2 516.5,267.0 518.0,264.8 519.5,262.6 521.0,260.5 522.5,258.3 524.0,256.1 525.5,254.0 527.0,251.9 528.5,249.8 530.0,247.7 531.5,245.6 533.0,243.5 534.5,241.4 536.0,239.4 537.5,237.3 539.0,235.3 540.5,233.3 542.0,231.3 543.5,229.3 545.0,227.3 546.5,225.3 548.0,223.4 549.5,221.4 551.0,219.5 552.5,217.6 554.0,215.7 555.5,213.8 557.0,211.9 558.5,210.0 560.0,208.2 561.5,206.3 563.0,204.5 564.5,202.7 566.0,200.9 567.5,199.1 569.0,197.4 570.5,195.6 572.0,193.9 573.5,192.1 575.0,190.4 576.5,188.7 578.0,187.1 579.5,185.4 581.0,183.7 582.5,182.1 584.0,180.5 585.5,178.9 587.0,177.3 588.5,175.7 590.0,174.2 591.5,172.6 593.0,171.1 594.5,169.6 596.0,168.1 597.5,166.7 599.0,165.2 600.5,163.8 602.0,162.4 603.5,161.0 605.0,159.6 606.5,158.3 608.0,156.9 609.5,155.6 611.0,154.3 612.5,153.0 614.0,151.7 615.5,150.5 617.0,149.3 618.5,148.1 620.0,146.9 621.5,145.7 623.0,144.5 624.5,143.4 626.0,142.3 627.5,141.2 629.0,140.1 630.5,139.1 632.0,138.0 633.5,137.0 635.0,136.0 636.5,135.0 638.0,134.0 639.5,133.1 641.0,132.2 642.5,131.3 644.0,130.4 645.5,129.5 647.0,128.7 648.5,127.8 650.0,127.0 651.5,126.2 653.0,125.5 654.5,124.7 656.0,124.0 657.5,123.3 659.0,122.6 660.5,121.9 662.0,121.3 663.5,120.6 665.0,120.0 666.5,119.4 668.0,118.8 669.5,118.3 671.0,117.8 672.5,117.3 674.0,116.8 675.5,116.3 677.0,115.8 678.5,115.4 680.0,115.0 681.5,114.6 683.0,114.2 684.5,113.9 686.0,113.6 687.5,113.2 689.0,113.0 690.5,112.7 692.0,112.4 693.5,112.2 695.0,112.0 696.5,111.8 698.0,111.7 699.5,111.5 701.0,111.4 702.5,111.3 704.0,111.2 705.5,111.2 707.0,111.2 708.5,111.1 710.0,111.1 711.5,111.2 713.0,111.2 714.5,111.3 716.0,111.4 717.5,111.5 719.0,111.7 720.5,111.8 722.0,112.0 723.5,112.2 725.0,112.4 726.5,112.7 728.0,112.9 729.5,113.2 731.0,113.6 732.5,113.9 734.0,114.2 735.5,114.6 737.0,115.0 738.5,115.4 740.0,115.9 741.5,116.4 743.0,116.8 744.5,117.4 746.0,117.9 747.5,118.4 749.0,119.0 750.5,119.6 752.0,120.2 753.5,120.9 755.0,121.5 756.5,122.2 758.0,122.9 759.5,123.6 761.0,124.4 762.5,125.1 764.0,125.9 765.5,126.7 767.0,127.6 768.5,128.4 770.0,129.3 771.5,130.2 773.0,131.1 774.5,132.1 776.0,133.0 777.5,134.0 779.0,135.0 780.5,136.0 782.0,137.1 783.5,138.1 785.0,139.2 786.5,140.3 788.0,141.5 789.5,142.6 791.0,143.8 792.5,145.0 794.0,146.2 795.5,147.4 797.0,148.7 798.5,150.0 800.0,151.3 801.5,152.6 803.0,153.9 804.5,155.3 806.0,156.7 807.5,158.1 809.0,159.5 810.5,160.9 812.0,162.4 813.5,163.9 815.0,165.4 816.5,166.9 818.0,168.5 819.5,170.1 821.0,171.7 822.5,173.3 824.0,174.9 825.5,176.6 827.0,178.3 828.5,180.0 830.0,181.7 831.5,183.4 833.0,185.2 834.5,187.0 836.0,188.8 837.5,190.6 839.0,192.4 840.5,194.3 842.0,196.2 843.5,198.1 845.0,200.0 846.5,202.0 848.0,204.0 849.5,205.9 851.0,208.0 852.5,210.0 854.0,212.0 855.5,214.1 857.0,216.2 858.5,218.3 860.0,220.5 861.5,222.6 863.0,224.8 864.5,227.0 866.0,229.2 867.5,231.5 869.0,233.7 870.5,236.0 872.0,238.3 873.5,240.6 875.0,243.0 876.5,245.3 878.0,247.7 879.5,250.1 881.0,252.5 882.5,255.0 884.0,257.4 885.5,259.9 887.0,262.4 888.5,264.9 890.0,267.4 891.5,270.0 893.0,272.5 894.5,275.1 896.0,277.7 897.5,280.3 899.0,282.9 900.5,285.5 902.0,288.2 903.5,290.9 905.0,293.5 906.5,296.2 908.0,298.9 909.5,301.7 911.0,304.4 912.5,307.2 914.0,309.9 915.5,312.7 917.0,315.5 918.5,318.3 920.0,321.1 921.5,323.9 923.0,326.8 924.5,329.6 926.0,332.5 927.5,335.4 929.0,338.2 930.5,341.1 932.0,344.1 933.5,347.0 935.0,349.9 936.5,352.9 938.0,355.8 939.5,358.8 941.0,361.7 942.5,364.7 944.0,367.7 945.5,370.7 947.0,373.6 948.5,376.6 950.0,379.5 951.5,382.4 953.0,385.3 954.5,388.1 956.0,390.9 957.5,393.7 959.0,396.5 960.5,399.2 962.0,401.9 963.5,404.6 965.0,407.2 966.5,409.9 968.0,412.5 969.5,415.1 971.0,417.7 972.5,420.3 974.0,423.0 975.5,425.6 977.0,428.2 978.5,430.8 980.0,433.5 981.5,436.1 983.0,438.7 984.5,441.4 986.0,444.0 987.5,446.6 989.0,449.3 990.5,451.9 992.0,454.5 993.5,457.1 995.0,459.7 996.5,462.3 998.0,464.8 999.5,467.4 1001.0,469.9 1002.5,472.5 1004.0,475.0 1005.5,477.5 1007.0,480.0 1008.5,482.5 1010.0,484.9 1011.5,487.4 1013.0,489.8 1014.5,492.2 1016.0,494.5 1017.5,496.9 1019.0,499.2 1020.5,501.5 1022.0,503.8 1023.5,506.1 1025.0,508.3 1026.5,510.6 1028.0,512.8 1029.5,515.0 1031.0,517.1 1032.5,519.3 1034.0,521.4 1035.5,523.5 1037.0,525.6 1038.5,527.7 1040.0,529.8 1041.5,531.8 1043.0,533.9 1044.5,535.9 1046.0,537.9 1047.5,539.9 1049.0,541.8 1050.5,543.8 1052.0,545.7 1053.5,547.6 1055.0,549.5 1056.5,551.4 1058.0,553.3 1059.5,555.1 1061.0,557.0 1062.5,558.8 1064.0,560.6 1065.5,562.4 1067.0,564.2 1068.5,565.9 1070.0,567.7 1071.5,569.4 1073.0,571.2 1074.5,572.9 1076.0,574.6 1077.5,576.3 1079.0,578.0 1080.5,579.7 1082.0,581.3 1083.5,583.0 1085.0,584.6 1086.5,586.3 1088.0,587.9 1089.5,589.5 1091.0,591.2 1092.5,592.8 1094.0,594.4 1095.5,596.0 1097.0,597.6 1098.5,599.2 1100.0,600.7 1101.5,602.3 1103.0,603.9 1104.5,605.4 1106.0,607.0 1107.5,608.5 1109.0,610.1 1110.5,611.6 1112.0,613.1 1113.5,614.6 1115.0,616.1 1116.5,617.6 1118.0,619.1 1119.5,620.6 1121.0,622.1 1122.5,623.5 1124.0,625.0 1125.5,626.5 1127.0,627.9 1128.5,629.3 1130.0,630.8 1131.5,632.2 1133.0,633.6 1134.5,635.0 1136.0,636.5 1137.5,637.9 1139.0,639.2 1140.5,640.6 1142.0,642.0 1143.5,643.4 1145.0,644.8 1146.5,646.1 1148.0,647.5 1149.5,648.8 1151.0,650.1 1152.5,651.5 1154.0,652.8 1155.5,654.1 1157.0,655.4 1158.5,656.7 1160.0,658.0 1161.5,659.3 1163.0,660.6 1164.5,661.9 1166.0,663.1 1167.5,664.4 1169.0,665.7 1170.5,666.9 1172.0,668.2 1173.5,669.4 1175.0,670.6 1176.5,671.8 1178.0,673.1 1179.5,674.3 1181.0,675.5 1182.5,676.7 1184.0,677.8 1185.5,679.0 1187.0,680.2 1188.5,681.4 1190.0,682.5 1191.5,683.7 1193.0,684.8 1194.5,686.0 1196.0,687.1 1197.5,688.2 1199.0,689.4 1200.5,690.5 1202.0,691.6 1203.5,692.7 1205.0,693.8 1206.5,694.9 1208.0,695.9 1209.5,697.0 1211.0,698.1 1212.5,699.1 1214.0,700.2 1215.5,701.2 1217.0,702.3 1218.5,703.3 1220.0,704.3 1221.5,705.4 1223.0,706.4 1224.5,707.4 1226.0,708.4 1227.5,709.4 1229.0,710.4 1230.5,711.3 1232.0,712.3 1233.5,713.3 1235.0,714.3 1236.5,715.2 1238.0,716.2 1239.5,717.1 1241.0,718.0 1242.5,719.0 1244.0,719.9 1245.5,720.8 1247.0,721.7 1248.5,722.6 1250.0,723.5 1251.5,724.4 1253.0,725.3 1254.5,726.2 1256.0,727.0 1257.5,727.9 1259.0,728.8 1260.5,729.6 1262.0,730.5 1263.5,731.3 1265.0,732.2 1266.5,733.0 1268.0,733.8 1269.5,734.6 1271.0,735.5 1272.5,736.3 1274.0,737.1 1275.5,737.9 1277.0,738.7 1278.5,739.5 1280.0,740.2 1281.5,741.0 1283.0,741.8 1284.5,742.6 1286.0,743.3 1287.5,744.1 1289.0,744.8 1290.5,745.6 1292.0,746.3 1293.5,747.0 1295.0,747.8 1296.5,748.5 1298.0,749.2 1299.5,750.0 1301.0,750.7 1302.5,751.4 1304.0,752.1 1305.5,752.8 1307.0,753.5 1308.5,754.2 1310.0,754.9 1311.5,755.5 1313.0,756.2 1314.5,756.9 1316.0,757.6 1317.5,758.2 1319.0,758.9 1320.5,759.5 1322.0,760.2 1323.5,760.8 1325.0,761.5 1326.5,762.1 1328.0,762.8 1329.5,763.4 1331.0,764.0 1332.5,764.7 1334.0,765.3 1335.5,765.9 1337.0,766.5 1338.5,767.1 1340.0,767.8 1341.5,768.4 1343.0,769.0 1344.5,769.6 1346.0,770.2 1347.5,770.8 1349.0,771.3 1350.5,771.9 1352.0,772.5 1353.5,773.1 1355.0,773.7 1356.5,774.2 1358.0,774.8 1359.5,775.4 1361.0,776.0 1362.5,776.5 1364.0,777.1 1365.5,777.6 1367.0,778.2 1368.5,778.8 1370.0,779.3 1371.5,779.9 1373.0,780.4 1374.5,780.9 1376.0,781.5 1377.5,782.0 1379.0,782.6 1380.5,783.1 1382.0,783.6 1383.5,784.2 1385.0,784.7 1386.5,785.2 1388.0,785.8 1389.5,786.3 1391.0,786.8 1392.5,787.3 1394.0,787.8 1395.5,788.4 1397.0,788.9 1398.5,789.4 1400.0,789.9 1401.5,790.4 1403.0,790.9 1404.5,791.4 1406.0,791.9 1407.5,792.4 1409.0,792.9 1410.5,793.5 1412.0,794.0 1413.5,794.5 1415.0,795.0 1416.5,795.5 1418.0,796.0 1419.5,796.5 1421.0,796.9 1422.5,797.4 1424.0,797.9 1425.5,798.4 1427.0,798.9 1428.5,799.4 1430.0,799.9 1431.5,800.4 1433.0,800.9 1434.5,801.4 1436.0,801.9 1437.5,802.4 1439.0,802.9 1440.5,803.3 1442.0,803.8 1443.5,804.3 1445.0,804.8 1446.5,805.3 1448.0,805.8 1449.5,806.3 1451.0,806.8 1452.5,807.3 1454.0,807.8 1455.5,808.2 1457.0,808.7 1458.5,809.2 1460.0,809.7 1461.5,810.2 1463.0,810.7 1464.5,811.2 1466.0,811.7 1467.5,812.2 1469.0,812.7 1470.5,813.2 1472.0,813.7 1473.5,814.2 1475.0,814.7 1476.5,815.2 1478.0,815.7 1479.5,816.2 1481.0,816.7 1482.5,817.2 1484.0,817.7 1485.5,818.2 1487.0,818.7 1488.5,819.2 1490.0,819.7 1491.5,820.2 1493.0,820.7 1494.5,821.2"/>
<polyline stroke="#800000" points="170.0,284.9 171.5,287.5 173.0,290.1 174.5,292.6 176.0,295.1 177.5,297.5 179.0,299.8 180.5,302.0 182.0,304.2 183.5,306.4 185.0,308.5 186.5,310.6 188.0,312.6 189.5,314.6 191.0,316.5 192.5,318.5 194.0,320.4 195.5,322.3 197.0,324.1 198.5,326.0 200.0,327.8 201.5,329.7 203.0,331.5 204.5,333.4 206.0,335.2 207.5,337.1 209.0,339.0 210.5,340.8 212.0,342.8 213.5,344.7 215.0,346.7 216.5,348.7 218.0,350.7 219.5,352.7 221.0,354.8 222.5,356.8 224.0,358.9 225.5,361.0 227.0,363.1 228.5,365.3 230.0,367.4 231.5,369.5 233.0,371.7 234.5,373.9 236.0,376.0 237.5,378.2 239.0,380.4 240.5,382.6 242.0,384.7 243.5,386.9 245.0,389.1 246.5,391.3 248.0,393.4 249.5,395.6 251.0,397.7 252.5,399.8 254.0,402.0 255.5,404.1 257.0,406.1 258.5,408.2 260.0,410.3 261.5,412.3 263.0,414.3 264.5,416.3 266.0,418.3 267.5,420.2 269.0,422.1 270.5,424.0 272.0,425.9 273.5,427.7 275.0,429.5 276.5,431.2 278.0,432.9 279.5,434.6 281.0,436.2 282.5,437.8 284.0,439.4 285.5,440.9 287.0,442.4 288.5,443.8 290.0,445.2 291.5,446.5 293.0,447.8 294.5,449.0 296.0,450.2 297.5,451.3 299.0,452.4 300.5,453.5 302.0,454.5 303.5,455.4 305.0,456.4 306.5,457.2 308.0,458.1 309.5,458.9 311.0,459.6 312.5,460.3 314.0,461.0 315.5,461.6 317.0,462.2 318.5,462.7 320.0,463.2 321.5,463.6 323.0,464.0 324.5,464.4 326.0,464.7 327.5,465.0 329.0,465.2 330.5,465.4 332.0,465.6 333.5,465.7 335.0,465.7 336.5,465.8 338.0,465.8 339.5,465.7 341.0,465.6 342.5,465.5 344.0,465.3 345.5,465.1 347.0,464.9 348.5,464.6 350.0,464.2 351.5,463.9 353.0,463.4 354.5,463.0 356.0,462.5 357.5,462.0 359.0,461.4 360.5,460.8 362.0,460.1 363.5,459.5 365.0,458.7 366.5,458.0 368.0,457.2 369.5,456.3 371.0,455.4 372.5,454.5 374.0,453.6 375.5,452.6 377.0,451.5 378.5,450.4 380.0,449.3 381.5,448.2 383.0,447.0 384.5,445.7 386.0,444.5 387.5,443.1 389.0,441.8 390.5,440.4 392.0,439.0 393.5,437.5 395.0,436.0 396.5,434.4 398.0,432.8 399.5,431.2 401.0,429.6 402.5,427.9 404.0,426.1 405.5,424.4 407.0,422.5 408.5,420.7 410.0,418.8 411.5,416.9 413.0,415.0 414.5,413.0 416.0,411.0 417.5,408.9 419.0,406.8 420.5,404.7 422.0,402.6 423.5,400.4 425.0,398.2 426.5,396.0 428.0,393.8 429.5,391.5 431.0,389.2 432.5,386.9 434.0,384.6 435.5,382.2 437.0,379.8 438.5,377.5 440.0,375.0 441.5,372.6 443.0,370.2 444.5,367.8 446.0,365.3 447.5,362.8 449.0,360.4 450.5,357.9 452.0,355.4 453.5,352.9 455.0,350.4 456.5,347.9 458.0,345.4 459.5,342.9 461.0,340.4 462.5,337.9 464.0,335.4 465.5,332.9 467.0,330.3 468.5,327.8 470.0,325.3 471.5,322.8 473.0,320.3 474.5,317.8 476.0,315.3 477.5,312.8 479.0,310.3 480.5,307.8 482.0,305.3 483.5,302.8 485.0,300.3 486.5,297.8 488.0,295.3 489.5,292.9 491.0,290.4 492.5,288.0 494.0,285.5 495.5,283.1 497.0,280.7 498.5,278.3 500.0,275.9 501.5,273.5 503.0,271.1 504.5,268.7 506.0,266.4 507.5,264.0 509.0,261.7 510.5,259.3 512.0,257.0 513.5,254.7 515.0,252.4 516.5,250.1 518.0,247.9 519.5,245.6 521.0,243.3 522.5,241.1 524.0,238.9 525.5,236.7 527.0,234.5 528.5,232.3 530.0,230.1 531.5,227.9 533.0,225.8 534.5,223.6 536.0,221.5 537.5,219.4 539.0,217.2 540.5,215.2 542.0,213.1 543.5,211.0 545.0,209.0 546.5,206.9 548.0,204.9 549.5,202.9 551.0,200.9 552.5,198.9 554.0,196.9 555.5,195.0 557.0,193.0 558.5,191.1 560.0,189.2 561.5,187.3 563.0,185.4 564.5,183.6 566.0,181.7 567.5,179.9 569.0,178.0 570.5,176.2 572.0,174.5 573.5,172.7 575.0,170.9 576.5,169.2 578.0,167.5 579.5,165.7 581.0,164.1 582.5,162.4 584.0,160.7 585.5,159.1 587.0,157.5 588.5,155.9 590.0,154.3 591.5,152.7 593.0,151.1 594.5,149.6 596.0,148.1 597.5,146.6 599.0,145.1 600.5,143.7 602.0,142.2 603.5,140.8 605.0,139.4 606.5,138.0 608.0,136.7 609.5,135.3 611.0,134.0 612.5,132.7 614.0,131.4 615.5,130.1 617.0,128.9 618.5,127.6 620.0,126.4 621.5,125.2 623.0,124.0 624.5,122.9 626.0,121.8 627.5,120.6 629.0,119.5 630.5,118.5 632.0,117.4 633.5,116.4 635.0,115.4 636.5,114.4 638.0,113.4 639.5,112.4 641.0,111.5 642.5,110.5 644.0,109.6 645.5,108.8 647.0,107.9 648.5,107.1 650.0,106.2 651.5,105.4 653.0,104.7 654.5,103.9 656.0,103.2 657.5,102.4 659.0,101.7 660.5,101.0 662.0,100.4 663.5,99.7 665.0,99.1 666.5,98.5 668.0,97.9 669.5,97.4 671.0,96.8 672.5,96.3 674.0,95.8 675.5,95.4 677.0,94.9 678.5,94.5 680.0,94.0 681.5,93.7 683.0,93.3 684.5,92.9 686.0,92.6 687.5,92.3 689.0,92.0 690.5,91.7 692.0,91.5 693.5,91.3 695.0,91.1 696.5,90.9 698.0,90.7 699.5,90.6 701.0,90.5 702.5,90.4 704.0,90.3 705.5,90.2 707.0,90.2 708.5,90.2 710.0,90.2 711.5,90.2 713.0,90.3 714.5,90.4 716.0,90.5 717.5,90.6 719.0,90.8 720.5,90.9 722.0,91.1 723.5,91.3 725.0,91.6 726.5,91.8 728.0,92.1 729.5,92.4 731.0,92.8 732.5,93.1 734.0,93.5 735.5,93.9 737.0,94.3 738.5,94.8 740.0,95.2 741.5,95.7 743.0,96.2 744.5,96.7 746.0,97.3 747.5,97.9 749.0,98.5 750.5,99.1 752.0,99.7 753.5,100.4 755.0,101.1 756.5,101.8 758.0,102.5 759.5,103.3 761.0,104.1 762.5,104.9 764.0,105.7 765.5,106.5 767.0,107.4 768.5,108.3 770.0,109.2 771.5,110.1 773.0,111.1 774.5,112.0 776.0,113.0 777.5,114.0 779.0,115.1 780.5,116.1 782.0,117.2 783.5,118.3 785.0,119.5 786.5,120.6 788.0,121.8 789.5,123.0 791.0,124.2 792.5,125.4 794.0,126.7 795.5,128.0 797.0,129.3 798.5,130.6 800.0,132.0 801.5,133.3 803.0,134.7 804.5,136.1 806.0,137.6 807.5,139.0 809.0,140.5 810.5,142.0 812.0,143.5 813.5,145.1 815.0,146.6 816.5,148.2 818.0,149.8 819.5,151.5 821.0,153.1 822.5,154.8 824.0,156.5 825.5,158.2 827.0,160.0 828.5,161.7 830.0,163.5 831.5,165.3 833.0,167.2 834.5,169.0 836.0,170.9 837.5,172.8 839.0,174.7 840.5,176.7 842.0,178.6 843.5,180.6 845.0,182.6 846.5,184.7 848.0,186.7 849.5,188.8 851.0,190.9 852.5,193.0 854.0,195.1 855.5,197.3 857.0,199.5 858.5,201.7 860.0,203.9 861.5,206.2 863.0,208.4 864.5,210.7 866.0,213.0 867.5,215.4 869.0,217.7 870.5,220.1 872.0,222.5 873.5,224.9 875.0,227.3 876.5,229.8 878.0,232.3 879.5,234.8 881.0,237.3 882.5,239.8 884.0,242.4 885.5,244.9 887.0,247.5 888.5,250.1 890.0,252.8 891.5,255.4 893.0,258.0 894.5,260.7 896.0,263.4 897.5,266.1 899.0,268.8 900.5,271.5 902.0,274.2 903.5,277.0 905.0,279.7 906.5,282.5 908.0,285.3 909.5,288.1 911.0,290.9 912.5,293.7 914.0,296.5 915.5,299.4 917.0,302.2 918.5,305.1 920.0,308.0 921.5,310.8 923.0,313.7 924.5,316.6 926.0,319.5 927.5,322.4 929.0,325.4 930.5,328.3 932.0,331.2 933.5,334.2 935.0,337.1 936.5,340.1 938.0,343.1 939.5,346.1 941.0,349.0 942.5,352.0 944.0,355.0 945.5,358.0 947.0,361.0 948.5,363.9 950.0,366.9 951.5,369.8 953.0,372.7 954.5,375.6 956.0,378.5 957.5,381.3 959.0,384.1 960.5,386.9 962.0,389.7 963.5,392.4 965.0,395.2 966.5,397.9 968.0,400.6 969.5,403.3 971.0,406.0 972.5,408.7 974.0,411.5 975.5,414.2 977.0,416.9 978.5,419.6 980.0,422.3 981.5,425.0 983.0,427.7 984.5,430.4 986.0,433.1 987.5,435.7 989.0,438.4 990.5,441.1 992.0,443.8 993.5,446.4 995.0,449.1 996.5,451.7 998.0,454.3 999.5,456.9 1001.0,459.5 1002.5,462.1 1004.0,464.7 1005.5,467.2 1007.0,469.8 1008.5,472.3 1010.0,474.8 1011.5,477.3 1013.0,479.8 1014.5,482.2 1016.0,484.7 1017.5,487.1 1019.0,489.5 1020.5,491.8 1022.0,494.2 1023.5,496.5 1025.0,498.8 1026.5,501.1 1028.0,503.4 1029.5,505.7 1031.0,507.9 1032.5,510.1 1034.0,512.3 1035.5,514.5 1037.0,516.6 1038.5,518.8 1040.0,520.9 1041.5,523.0 1043.0,525.1 1044.5,527.2 1046.0,529.2 1047.5,531.3 1049.0,533.3 1050.5,535.3 1052.0,537.2 1053.5,539.2 1055.0,541.1 1056.5,543.1 1058.0,545.0 1059.5,546.8 1061.0,548.7 1062.5,550.6 1064.0,552.4 1065.5,554.2 1067.0,556.0 1068.5,557.8 1070.0,559.6 1071.5,561.3 1073.0,563.1 1074.5,564.8 1076.0,566.5 1077.5,568.3 1079.0,570.0 1080.5,571.7 1082.0,573.3 1083.5,575.0 1085.0,576.7 1086.5,578.3 1088.0,580.0 1089.5,581.6 1091.0,583.3 1092.5,584.9 1094.0,586.5 1095.5,588.1 1097.0,589.7 1098.5,591.4 1100.0,592.9 1101.5,594.5 1103.0,596.1 1104.5,597.7 1106.0,599.3 1107.5,600.8 1109.0,602.4 1110.5,604.0 1112.0,605.5 1113.5,607.1 1115.0,608.6 1116.5,610.1 1118.0,611.6 1119.5,613.1 1121.0,614.7 1122.5,616.2 1124.0,617.7 1125.5,619.1 1127.0,620.6 1128.5,622.1 1130.0,623.6 1131.5,625.0 1133.0,626.5 1134.5,627.9 1136.0,629.4 1137.5,630.8 1139.0,632.3 1140.5,633.7 1142.0,635.1 1143.5,636.5 1145.0,637.9 1146.5,639.3 1148.0,640.7 1149.5,642.1 1151.0,643.5 1152.5,644.8 1154.0,646.2 1155.5,647.5 1157.0,648.9 1158.5,650.2 1160.0,651.6 1161.5,652.9 1163.0,654.2 1164.5,655.5 1166.0,656.8 1167.5,658.2 1169.0,659.4 1170.5,660.7 1172.0,662.0 1173.5,663.3 1175.0,664.6 1176.5,665.8 1178.0,667.1 1179.5,668.3 1181.0,669.6 1182.5,670.8 1184.0,672.0 1185.5,673.3 1187.0,674.5 1188.5,675.7 1190.0,676.9 1191.5,678.1 1193.0,679.3 1194.5,680.4 1196.0,681.6 1197.5,682.8 1199.0,683.9 1200.5,685.1 1202.0,686.2 1203.5,687.4 1205.0,688.5 1206.5,689.6 1208.0,690.7 1209.5,691.8 1211.0,693.0 1212.5,694.0 1214.0,695.1 1215.5,696.2 1217.0,697.3 1218.5,698.4 1220.0,699.4 1221.5,700.5 1223.0,701.5 1224.5,702.6 1226.0,703.6 1227.5,704.6 1229.0,705.6 1230.5,706.7 1232.0,707.7 1233.5,708.7 1235.0,709.6 1236.5,710.6 1238.0,711.6 1239.5,712.6 1241.0,713.5 1242.5,714.5 1244.0,715.4 1245.5,716.4 1247.0,717.3 1248.5,718.2 1250.0,719.2 1251.5,720.1 1253.0,721.0 1254.5,721.9 1256.0,722.8 1257.5,723.7 1259.0,724.5 1260.5,725.4 1262.0,726.3 1263.5,727.1 1265.0,728.0 1266.5,728.8 1268.0,729.7 1269.5,730.5 1271.0,731.3 1272.5,732.2 1274.0,733.0 1275.5,733.8 1277.0,734.6 1278.5,735.4 1280.0,736.2 1281.5,737.0 1283.0,737.8 1284.5,738.6 1286.0,739.3 1287.5,740.1 1289.0,740.9 1290.5,741.6 1292.0,742.4 1293.5,743.1 1295.0,743.9 1296.5,744.6 1298.0,745.3 1299.5,746.0 1301.0,746.8 1302.5,747.5 1304.0,748.2 1305.5,748.9 1307.0,749.6 1308.5,750.3 1310.0,751.0 1311.5,751.7 1313.0,752.4 1314.5,753.1 1316.0,753.7 1317.5,754.4 1319.0,755.1 1320.5,755.7 1322.0,756.4 1323.5,757.0 1325.0,757.7 1326.5,758.3 1328.0,759.0 1329.5,759.6 1331.0,760.3 1332.5,760.9 1334.0,761.5 1335.5,762.1 1337.0,762.8 1338.5,763.4 1340.0,764.0 1341.5,764.6 1343.0,765.2 1344.5,765.8 1346.0,766.4 1347.5,767.0 1349.0,767.6 1350.5,768.2 1352.0,768.8 1353.5,769.4 1355.0,770.0 1356.5,770.5 1358.0,771.1 1359.5,771.7 1361.0,772.3 1362.5,772.8 1364.0,773.4 1365.5,774.0 1367.0,774.5 1368.5,775.1 1370.0,775.6 1371.5,776.2 1373.0,776.8 1374.5,777.3 1376.0,777.9 1377.5,778.4 1379.0,778.9 1380.5,779.5 1382.0,780.0 1383.5,780.6 1385.0,781.1 1386.5,781.6 1388.0,782.2 1389.5,782.7 1391.0,783.2 1392.5,783.8 1394.0,784.3 1395.5,784.8 1397.0,785.4 1398.5,785.9 1400.0,786.4 1401.5,786.9 1403.0,787.5 1404.5,788.0 1406.0,788.5 1407.5,789.0 1409.0,789.5 1410.5,790.0 1412.0,790.6 1413.5,791.1 1415.0,791.6 1416.5,792.1 1418.0,792.6 1419.5,793.1 1421.0,793.7 1422.5,794.2 1424.0,794.7 1425.5,795.2 1427.0,795.7 1428.5,796.2 1430.0,796.7 1431.5,797.2 1433.0,797.8 1434.5,798.3 1436.0,798.8 1437.5,799.3 1439.0,799.8 1440.5,800.3 1442.0,800.8 1443.5,801.4 1445.0,801.9 1446.5,802.4 1448.0,802.9 1449.5,803.4 1451.0,803.9 1452.5,804.5 1454.0,805.0 1455.5,805.5 1457.0,806.0 1458.5,806.6 1460.0,807.1 1461.5,807.6 1463.0,808.1 1464.5,808.7 1466.0,809.2 1467.5,809.7 1469.0,810.3 1470.5,810.8 1472.0,811.3 1473.5,811.9 1475.0,812.4 1476.5,812.9 1478.0,813.5 1479.5,814.0 1481.0,814.6 1482.5,815.1 1484.0,815.7 1485.5,816.2 1487.0,816.8 1488.5,817.3 1490.0,817.9 1491.5,818.5 1493.0,819.0 1494.5,819.6"/>
<polyline stroke="#008000" points="170.0,275.5 171.5,278.2 173.0,280.9 174.5,283.4 176.0,285.9 177.5,288.3 179.0,290.7 180.5,293.0 182.0,295.2 183.5,297.4 185.0,299.5 186.5,301.6 188.0,303.6 189.5,305.6 191.0,307.6 192.5,309.5 194.0,311.4 195.5,313.3 197.0,315.2 198.5,317.1 200.0,318.9 201.5,320.8 203.0,322.6 204.5,324.5 206.0,326.3 207.5,328.2 209.0,330.1 210.5,332.0 212.0,333.9 213.5,335.9 215.0,337.9 216.5,339.9 218.0,341.9 219.5,344.0 221.0,346.1 222.5,348.2 224.0,350.3 225.5,352.4 227.0,354.6 228.5,356.8 230.0,358.9 231.5,361.1 233.0,363.3 234.5,365.6 236.0,367.8 237.5,370.0 239.0,372.2 240.5,374.5 242.0,376.7 243.5,378.9 245.0,381.2 246.5,383.4 248.0,385.6 249.5,387.8 251.0,390.0 252.5,392.2 254.0,394.4 255.5,396.6 257.0,398.7 258.5,400.9 260.0,403.0 261.5,405.1 263.0,407.2 264.5,409.2 266.0,411.2 267.5,413.2 269.0,415.2 270.5,417.2 272.0,419.1 273.5,420.9 275.0,422.8 276.5,424.6 278.0,426.4 279.5,428.1 281.0,429.8 282.5,431.4 284.0,433.0 285.5,434.6 287.0,436.1 288.5,437.6 290.0,439.0 291.5,440.3 293.0,441.7 294.5,442.9 296.0,444.2 297.5,445.3 299.0,446.5 300.5,447.5 302.0,448.6 303.5,449.6 305.0,450.5 306.5,451.4 308.0,452.3 309.5,453.1 311.0,453.8 312.5,454.5 314.0,455.2 315.5,455.8 317.0,456.4 318.5,456.9 320.0,457.4 321.5,457.9 323.0,458.3 324.5,458.6 326.0,458.9 327.5,459.2 329.0,459.4 330.5,459.6 332.0,459.7 333.5,459.8 335.0,459.9 336.5,459.9 338.0,459.8 339.5,459.7 341.0,459.6 342.5,459.4 344.0,459.2 345.5,459.0 347.0,458.7 348.5,458.3 350.0,457.9 351.5,457.5 353.0,457.0 354.5,456.5 356.0,456.0 357.5,455.4 359.0,454.7 360.5,454.1 362.0,453.3 363.5,452.6 365.0,451.8 366.5,450.9 368.0,450.1 369.5,449.1 371.0,448.2 372.5,447.2 374.0,446.1 375.5,445.0 377.0,443.9 378.5,442.8 380.0,441.6 381.5,440.3 383.0,439.0 384.5,437.7 386.0,436.4 387.5,435.0 389.0,433.5 390.5,432.1 392.0,430.5 393.5,429.0 395.0,427.4 396.5,425.8 398.0,424.1 399.5,422.4 401.0,420.7 402.5,418.9 404.0,417.1 405.5,415.3 407.0,413.4 408.5,411.5 410.0,409.6 411.5,407.6 413.0,405.6 414.5,403.6 416.0,401.6 417.5,399.5 419.0,397.4 420.5,395.2 422.0,393.0 423.5,390.8 425.0,388.6 426.5,386.4 428.0,384.1 429.5,381.8 431.0,379.5 432.5,377.2 434.0,374.8 435.5,372.4 437.0,370.1 438.5,367.7 440.0,365.2 441.5,362.8 443.0,360.4 444.5,357.9 446.0,355.4 447.5,353.0 449.0,350.5 450.5,348.0 452.0,345.5 453.5,343.0 455.0,340.4 456.5,337.9 458.0,335.4 459.5,332.9 461.0,330.3 462.5,327.8 464.0,325.3 465.5,322.7 467.0,320.2 468.5,317.6 470.0,315.1 471.5,312.5 473.0,310.0 474.5,307.5 476.0,304.9 477.5,302.4 479.0,299.8 480.5,297.3 482.0,294.8 483.5,292.3 485.0,289.8 486.5,287.3 488.0,284.8 489.5,282.3 491.0,279.8 492.5,277.3 494.0,274.9 495.5,272.4 497.0,270.0 498.5,267.5 500.0,265.1 501.5,262.7 503.0,260.3 504.5,257.9 506.0,255.5 507.5,253.1 509.0,250.7 510.5,248.4 512.0,246.0 513.5,243.7 515.0,241.4 516.5,239.1 518.0,236.8 519.5,234.5 521.0,232.2 522.5,230.0 524.0,227.7 525.5,225.5 527.0,223.2 528.5,221.0 530.0,218.8 531.5,216.6 533.0,214.4 534.5,212.3 536.0,210.1 537.5,208.0 539.0,205.8 540.5,203.7 542.0,201.6 543.5,199.5 545.0,197.5 546.5,195.4 548.0,193.3 549.5,191.3 551.0,189.3 552.5,187.3 554.0,185.3 555.5,183.3 557.0,181.3 558.5,179.4 560.0,177.4 561.5,175.5 563.0,173.6 564.5,171.7 566.0,169.8 567.5,168.0 569.0,166.1 570.5,164.3 572.0,162.5 573.5,160.7 575.0,158.9 576.5,157.1 578.0,155.4 579.5,153.6 581.0,151.9 582.5,150.2 584.0,148.5 585.5,146.9 587.0,145.2 588.5,143.6 590.0,141.9 591.5,140.3 593.0,138.8 594.5,137.2 596.0,135.7 597.5,134.1 599.0,132.6 600.5,131.1 602.0,129.7 603.5,128.2 605.0,126.8 606.5,125.4 608.0,124.0 609.5,122.6 611.0,121.2 612.5,119.9 614.0,118.6 615.5,117.3 617.0,116.0 618.5,114.7 620.0,113.5 621.5,112.3 623.0,111.1 624.5,109.9 626.0,108.7 627.5,107.6 629.0,106.5 630.5,105.4 632.0,104.3 633.5,103.2 635.0,102.2 636.5,101.2 638.0,100.2 639.5,99.2 641.0,98.2 642.5,97.3 644.0,96.3 645.5,95.4 647.0,94.6 648.5,93.7 650.0,92.8 651.5,92.0 653.0,91.2 654.5,90.4 656.0,89.7 657.5,88.9 659.0,88.2 660.5,87.5 662.0,86.8 663.5,86.2 665.0,85.5 666.5,84.9 668.0,84.3 669.5,83.7 671.0,83.2 672.5,82.6 674.0,82.1 675.5,81.6 677.0,81.1 678.5,80.7 680.0,80.3 681.5,79.8 683.0,79.5 684.5,79.1 686.0,78.7 687.5,78.4 689.0,78.1 690.5,77.8 692.0,77.6 693.5,77.3 695.0,77.1 696.5,76.9 698.0,76.7 699.5,76.6 701.0,76.4 702.5,76.3 704.0,76.2 705.5,76.2 707.0,76.1 708.5,76.1 710.0,76.1 711.5,76.1 713.0,76.2 714.5,76.2 716.0,76.3 717.5,76.4 719.0,76.6 720.5,76.7 722.0,76.9 723.5,77.1 725.0,77.3 726.5,77.6 728.0,77.9 729.5,78.2 731.0,78.5 732.5,78.8 734.0,79.2 735.5,79.6 737.0,80.0 738.5,80.4 740.0,80.9 741.5,81.3 743.0,81.8 744.5,82.4 746.0,82.9 747.5,83.5 749.0,84.1 750.5,84.7 752.0,85.3 753.5,86.0 755.0,86.6 756.5,87.3 758.0,88.1 759.5,88.8 761.0,89.6 762.5,90.4 764.0,91.2 765.5,92.0 767.0,92.9 768.5,93.8 770.0,94.7 771.5,95.6 773.0,96.6 774.5,97.5 776.0,98.5 777.5,99.5 779.0,100.6 780.5,101.6 782.0,102.7 783.5,103.8 785.0,105.0 786.5,106.1 788.0,107.3 789.5,108.5 791.0,109.7 792.5,110.9 794.0,112.2 795.5,113.5 797.0,114.8 798.5,116.1 800.0,117.5 801.5,118.9 803.0,120.3 804.5,121.7 806.0,123.1 807.5,124.6 809.0,126.1 810.5,127.6 812.0,129.2 813.5,130.7 815.0,132.3 816.5,133.9 818.0,135.5 819.5,137.2 821.0,138.9 822.5,140.6 824.0,142.3 825.5,144.0 827.0,145.8 828.5,147.6 830.0,149.4 831.5,151.2 833.0,153.1 834.5,155.0 836.0,156.9 837.5,158.8 839.0,160.8 840.5,162.7 842.0,164.7 843.5,166.7 845.0,168.8 846.5,170.8 848.0,172.9 849.5,175.0 851.0,177.2 852.5,179.3 854.0,181.5 855.5,183.7 857.0,185.9 858.5,188.2 860.0,190.5 861.5,192.8 863.0,195.1 864.5,197.4 866.0,199.8 867.5,202.2 869.0,204.6 870.5,207.0 872.0,209.5 873.5,211.9 875.0,214.4 876.5,217.0 878.0,219.5 879.5,222.1 881.0,224.6 882.5,227.2 884.0,229.8 885.5,232.5 887.0,235.1 888.5,237.8 890.0,240.5 891.5,243.2 893.0,245.9 894.5,248.6 896.0,251.4 897.5,254.1 899.0,256.9 900.5,259.7 902.0,262.5 903.5,265.3 905.0,268.1 906.5,270.9 908.0,273.8 909.5,276.6 911.0,279.5 912.5,282.4 914.0,285.3 915.5,288.2 917.0,291.1 918.5,294.0 920.0,296.9 921.5,299.8 923.0,302.8 924.5,305.7 926.0,308.7 927.5,311.6 929.0,314.6 930.5,317.5 932.0,320.5 933.5,323.5 935.0,326.5 936.5,329.5 938.0,332.5 939.5,335.5 941.0,338.5 942.5,341.5 944.0,344.5 945.5,347.5 947.0,350.5 948.5,353.5 950.0,356.5 951.5,359.4 953.0,362.4 954.5,365.3 956.0,368.2 957.5,371.1 959.0,374.0 960.5,376.9 962.0,379.7 963.5,382.5 965.0,385.4 966.5,388.2 968.0,391.0 969.5,393.8 971.0,396.6 972.5,399.3 974.0,402.1 975.5,404.9 977.0,407.7 978.5,410.5 980.0,413.2 981.5,416.0 983.0,418.8 984.5,421.5 986.0,424.3 987.5,427.0 989.0,429.7 990.5,432.5 992.0,435.2 993.5,437.9 995.0,440.6 996.5,443.3 998.0,446.0 999.5,448.6 1001.0,451.3 1002.5,453.9 1004.0,456.5 1005.5,459.1 1007.0,461.7 1008.5,464.3 1010.0,466.9 1011.5,469.4 1013.0,471.9 1014.5,474.4 1016.0,476.9 1017.5,479.4 1019.0,481.8 1020.5,484.3 1022.0,486.7 1023.5,489.1 1025.0,491.4 1026.5,493.8 1028.0,496.1 1029.5,498.4 1031.0,500.7 1032.5,503.0 1034.0,505.2 1035.5,507.5 1037.0,509.7 1038.5,511.9 1040.0,514.1 1041.5,516.2 1043.0,518.4 1044.5,520.5 1046.0,522.6 1047.5,524.7 1049.0,526.7 1050.5,528.8 1052.0,530.8 1053.5,532.8 1055.0,534.7 1056.5,536.7 1058.0,538.6 1059.5,540.6 1061.0,542.4 1062.5,544.3 1064.0,546.2 1065.5,548.0 1067.0,549.9 1068.5,551.7 1070.0,553.5 1071.5,555.2 1073.0,557.0 1074.5,558.8 1076.0,560.5 1077.5,562.2 1079.0,563.9 1080.5,565.7 1082.0,567.4 1083.5,569.0 1085.0,570.7 1086.5,572.4 1088.0,574.1 1089.5,575.7 1091.0,577.4 1092.5,579.0 1094.0,580.7 1095.5,582.3 1097.0,583.9 1098.5,585.6 1100.0,587.2 1101.5,588.8 1103.0,590.4 1104.5,592.0 1106.0,593.6 1107.5,595.2 1109.0,596.8 1110.5,598.3 1112.0,599.9 1113.5,601.5 1115.0,603.0 1116.5,604.6 1118.0,606.1 1119.5,607.7 1121.0,609.2 1122.5,610.7 1124.0,612.2 1125.5,613.7 1127.0,615.3 1128.5,616.8 1130.0,618.3 1131.5,619.7 1133.0,621.2 1134.5,622.7 1136.0,624.2 1137.5,625.6 1139.0,627.1 1140.5,628.5 1142.0,630.0 1143.5,631.4 1145.0,632.9 1146.5,634.3 1148.0,635.7 1149.5,637.1 1151.0,638.5 1152.5,639.9 1154.0,641.3 1155.5,642.7 1157.0,644.1 1158.5,645.4 1160.0,646.8 1161.5,648.2 1163.0,649.5 1164.5,650.9 1166.0,652.2 1167.5,653.5 1169.0,654.9 1170.5,656.2 1172.0,657.5 1173.5,658.8 1175.0,660.1 1176.5,661.4 1178.0,662.7 1179.5,664.0 1181.0,665.2 1182.5,666.5 1184.0,667.7 1185.5,669.0 1187.0,670.2 1188.5,671.5 1190.0,672.7 1191.5,673.9 1193.0,675.1 1194.5,676.4 1196.0,677.6 1197.5,678.7 1199.0,679.9 1200.5,681.1 1202.0,682.3 1203.5,683.5 1205.0,684.6 1206.5,685.8 1208.0,686.9 1209.5,688.0 1211.0,689.2 1212.5,690.3 1214.0,691.4 1215.5,692.5 1217.0,693.6 1218.5,694.7 1220.0,695.8 1221.5,696.9 1223.0,697.9 1224.5,699.0 1226.0,700.1 1227.5,701.1 1229.0,702.2 1230.5,703.2 1232.0,704.2 1233.5,705.2 1235.0,706.2 1236.5,707.2 1238.0,708.2 1239.5,709.2 1241.0,710.2 1242.5,711.2 1244.0,712.1 1245.5,713.1 1247.0,714.1 1248.5,715.0 1250.0,715.9 1251.5,716.9 1253.0,717.8 1254.5,718.7 1256.0,719.6 1257.5,720.5 1259.0,721.4 1260.5,722.3 1262.0,723.2 1263.5,724.0 1265.0,724.9 1266.5,725.8 1268.0,726.6 1269.5,727.5 1271.0,728.3 1272.5,729.2 1274.0,730.0 1275.5,730.8 1277.0,731.6 1278.5,732.4 1280.0,733.2 1281.5,734.0 1283.0,734.8 1284.5,735.6 1286.0,736.4 1287.5,737.2 1289.0,737.9 1290.5,738.7 1292.0,739.5 1293.5,740.2 1295.0,741.0 1296.5,741.7 1298.0,742.4 1299.5,743.2 1301.0,743.9 1302.5,744.6 1304.0,745.3 1305.5,746.0 1307.0,746.8 1308.5,747.5 1310.0,748.2 1311.5,748.9 1313.0,749.5 1314.5,750.2 1316.0,750.9 1317.5,751.6 1319.0,752.3 1320.5,752.9 1322.0,753.6 1323.5,754.2 1325.0,754.9 1326.5,755.5 1328.0,756.2 1329.5,756.8 1331.0,757.5 1332.5,758.1 1334.0,758.7 1335.5,759.4 1337.0,760.0 1338.5,760.6 1340.0,761.2 1341.5,761.8 1343.0,762.5 1344.5,763.1 1346.0,763.7 1347.5,764.3 1349.0,764.9 1350.5,765.5 1352.0,766.0 1353.5,766.6 1355.0,767.2 1356.5,767.8 1358.0,768.4 1359.5,769.0 1361.0,769.5 1362.5,770.1 1364.0,770.7 1365.5,771.3 1367.0,771.8 1368.5,772.4 1370.0,772.9 1371.5,773.5 1373.0,774.1 1374.5,774.6 1376.0,775.2 1377.5,775.7 1379.0,776.3 1380.5,776.8 1382.0,777.4 1383.5,777.9 1385.0,778.5 1386.5,779.0 1388.0,779.5 1389.5,780.1 1391.0,780.6 1392.5,781.2 1394.0,781.7 1395.5,782.2 1397.0,782.8 1398.5,783.3 1400.0,783.8 1401.5,784.4 1403.0,784.9 1404.5,785.4 1406.0,786.0 1407.5,786.5 1409.0,787.0 1410.5,787.5 1412.0,788.1 1413.5,788.6 1415.0,789.1 1416.5,789.7 1418.0,790.2 1419.5,790.7 1421.0,791.2 1422.5,791.8 1424.0,792.3 1425.5,792.8 1427.0,793.3 1428.5,793.9 1430.0,794.4 1431.5,794.9 1433.0,795.5 1434.5,796.0 1436.0,796.5 1437.5,797.0 1439.0,797.6 1440.5,798.1 1442.0,798.6 1443.5,799.2 1445.0,799.7 1446.5,800.3 1448.0,800.8 1449.5,801.3 1451.0,801.9 1452.5,802.4 1454.0,803.0 1455.5,803.5 1457.0,804.0 1458.5,804.6 1460.0,805.1 1461.5,805.7 1463.0,806.2 1464.5,806.8 1466.0,807.4 1467.5,807.9 1469.0,808.5 1470.5,809.0 1472.0,809.6 1473.5,810.2 1475.0,810.7 1476.5,811.3 1478.0,811.9 1479.5,812.5 1481.0,813.0 1482.5,813.6 1484.0,814.2 1485.5,814.8 1487.0,815.4 1488.5,816.0 1490.0,816.6 1491.5,817.2 1493.0,817.8 1494.5,818.4"/>
<polyline stroke="#8000FF" points="170.0,264.7 171.5,267.5 173.0,270.2 174.5,272.9 176.0,275.4 177.5,277.9 179.0,280.3 180.5,282.6 182.0,284.9 183.5,287.1 185.0,289.3 186.5,291.4 188.0,293.5 189.5,295.5 191.0,297.5 192.5,299.5 194.0,301.4 195.5,303.3 197.0,305.2 198.5,307.1 200.0,309.0 201.5,310.9 203.0,312.8 204.5,314.7 206.0,316.6 207.5,318.5 209.0,320.4 210.5,322.3 212.0,324.3 213.5,326.3 215.0,328.4 216.5,330.5 218.0,332.6 219.5,334.7 221.0,336.8 222.5,339.0 224.0,341.2 225.5,343.4 227.0,345.7 228.5,347.9 230.0,350.2 231.5,352.5 233.0,354.8 234.5,357.1 236.0,359.4 237.5,361.7 239.0,364.0 240.5,366.4 242.0,368.7 243.5,371.0 245.0,373.3 246.5,375.6 248.0,378.0 249.5,380.3 251.0,382.6 252.5,384.9 254.0,387.1 255.5,389.4 257.0,391.6 258.5,393.9 260.0,396.1 261.5,398.3 263.0,400.4 264.5,402.6 266.0,404.7 267.5,406.7 269.0,408.8 270.5,410.8 272.0,412.8 273.5,414.8 275.0,416.7 276.5,418.6 278.0,420.4 279.5,422.2 281.0,424.0 282.5,425.7 284.0,427.3 285.5,428.9 287.0,430.5 288.5,432.0 290.0,433.5 291.5,434.9 293.0,436.2 294.5,437.6 296.0,438.8 297.5,440.0 299.0,441.2 300.5,442.3 302.0,443.3 303.5,444.4 305.0,445.3 306.5,446.2 308.0,447.1 309.5,447.9 311.0,448.7 312.5,449.4 314.0,450.1 315.5,450.7 317.0,451.3 318.5,451.8 320.0,452.3 321.5,452.7 323.0,453.1 324.5,453.4 326.0,453.7 327.5,454.0 329.0,454.2 330.5,454.3 332.0,454.4 333.5,454.5 335.0,454.5 336.5,454.5 338.0,454.4 339.5,454.3 341.0,454.1 342.5,453.9 344.0,453.6 345.5,453.3 347.0,453.0 348.5,452.6 350.0,452.2 351.5,451.7 353.0,451.2 354.5,450.6 356.0,450.0 357.5,449.3 359.0,448.6 360.5,447.9 362.0,447.1 363.5,446.3 365.0,445.5 366.5,444.6 368.0,443.6 369.5,442.6 371.0,441.6 372.5,440.5 374.0,439.4 375.5,438.3 377.0,437.1 378.5,435.9 380.0,434.6 381.5,433.3 383.0,431.9 384.5,430.5 386.0,429.1 387.5,427.7 389.0,426.2 390.5,424.6 392.0,423.0 393.5,421.4 395.0,419.8 396.5,418.1 398.0,416.4 399.5,414.6 401.0,412.8 402.5,411.0 404.0,409.1 405.5,407.2 407.0,405.3 408.5,403.4 410.0,401.4 411.5,399.4 413.0,397.3 414.5,395.3 416.0,393.2 417.5,391.0 419.0,388.9 420.5,386.7 422.0,384.5 423.5,382.3 425.0,380.0 426.5,377.7 428.0,375.4 429.5,373.1 431.0,370.8 432.5,368.4 434.0,366.1 435.5,363.7 437.0,361.3 438.5,358.8 440.0,356.4 441.5,353.9 443.0,351.5 444.5,349.0 446.0,346.5 447.5,344.0 449.0,341.5 450.5,339.0 452.0,336.4 453.5,333.9 455.0,331.3 456.5,328.8 458.0,326.2 459.5,323.7 461.0,321.1 462.5,318.5 464.0,315.9 465.5,313.4 467.0,310.8 468.5,308.2 470.0,305.6 471.5,303.1 473.0,300.5 474.5,297.9 476.0,295.3 477.5,292.7 479.0,290.2 480.5,287.6 482.0,285.0 483.5,282.5 485.0,279.9 486.5,277.4 488.0,274.9 489.5,272.3 491.0,269.8 492.5,267.3 494.0,264.8 495.5,262.3 497.0,259.8 498.5,257.4 500.0,254.9 501.5,252.4 503.0,250.0 504.5,247.6 506.0,245.1 507.5,242.7 509.0,240.3 510.5,237.9 512.0,235.5 513.5,233.2 515.0,230.8 516.5,228.5 518.0,226.1 519.5,223.8 521.0,221.5 522.5,219.2 524.0,216.9 525.5,214.6 527.0,212.4 528.5,210.1 530.0,207.9 531.5,205.6 533.0,203.4 534.5,201.2 536.0,199.0 537.5,196.9 539.0,194.7 540.5,192.6 542.0,190.4 543.5,188.3 545.0,186.2 546.5,184.1 548.0,182.0 549.5,180.0 551.0,177.9 552.5,175.9 554.0,173.8 555.5,171.8 557.0,169.8 558.5,167.9 560.0,165.9 561.5,163.9 563.0,162.0 564.5,160.1 566.0,158.2 567.5,156.3 569.0,154.4 570.5,152.6 572.0,150.7 573.5,148.9 575.0,147.1 576.5,145.3 578.0,143.6 579.5,141.8 581.0,140.1 582.5,138.3 584.0,136.6 585.5,134.9 587.0,133.3 588.5,131.6 590.0,130.0 591.5,128.4 593.0,126.8 594.5,125.2 596.0,123.6 597.5,122.1 599.0,120.6 600.5,119.1 602.0,117.6 603.5,116.1 605.0,114.7 606.5,113.3 608.0,111.9 609.5,110.5 611.0,109.1 612.5,107.8 614.0,106.4 615.5,105.1 617.0,103.8 618.5,102.6 620.0,101.3 621.5,100.1 623.0,98.9 624.5,97.7 626.0,96.5 627.5,95.4 629.0,94.3 630.5,93.1 632.0,92.1 633.5,91.0 635.0,89.9 636.5,88.9 638.0,87.9 639.5,86.9 641.0,85.9 642.5,85.0 644.0,84.1 645.5,83.2 647.0,82.3 648.5,81.4 650.0,80.6 651.5,79.7 653.0,78.9 654.5,78.1 656.0,77.4 657.5,76.6 659.0,75.9 660.5,75.2 662.0,74.5 663.5,73.9 665.0,73.2 666.5,72.6 668.0,72.0 669.5,71.4 671.0,70.9 672.5,70.3 674.0,69.8 675.5,69.3 677.0,68.9 678.5,68.4 680.0,68.0 681.5,67.6 683.0,67.2 684.5,66.8 686.0,66.5 687.5,66.1 689.0,65.8 690.5,65.5 692.0,65.3 693.5,65.0 695.0,64.8 696.5,64.6 698.0,64.4 699.5,64.3 701.0,64.1 702.5,64.0 704.0,63.9 705.5,63.9 707.0,63.8 708.5,63.8 710.0,63.8 711.5,63.8 713.0,63.8 714.5,63.9 716.0,64.0 717.5,64.1 719.0,64.2 720.5,64.4 722.0,64.5 723.5,64.7 725.0,64.9 726.5,65.2 728.0,65.4 729.5,65.7 731.0,66.0 732.5,66.3 734.0,66.7 735.5,67.0 737.0,67.4 738.5,67.8 740.0,68.3 741.5,68.7 743.0,69.2 744.5,69.7 746.0,70.2 747.5,70.8 749.0,71.3 750.5,71.9 752.0,72.5 753.5,73.2 755.0,73.8 756.5,74.5 758.0,75.2 759.5,75.9 761.0,76.7 762.5,77.4 764.0,78.2 765.5,79.1 767.0,79.9 768.5,80.8 770.0,81.6 771.5,82.5 773.0,83.5 774.5,84.4 776.0,85.4 777.5,86.4 779.0,87.4 780.5,88.5 782.0,89.5 783.5,90.6 785.0,91.7 786.5,92.9 788.0,94.0 789.5,95.2 791.0,96.4 792.5,97.6 794.0,98.9 795.5,100.2 797.0,101.5 798.5,102.8 800.0,104.1 801.5,105.5 803.0,106.9 804.5,108.3 806.0,109.8 807.5,111.2 809.0,112.7 810.5,114.2 812.0,115.8 813.5,117.3 815.0,118.9 816.5,120.5 818.0,122.1 819.5,123.8 821.0,125.5 822.5,127.2 824.0,128.9 825.5,130.6 827.0,132.4 828.5,134.2 830.0,136.0 831.5,137.9 833.0,139.7 834.5,141.6 836.0,143.5 837.5,145.5 839.0,147.4 840.5,149.4 842.0,151.4 843.5,153.5 845.0,155.5 846.5,157.6 848.0,159.7 849.5,161.8 851.0,164.0 852.5,166.2 854.0,168.4 855.5,170.6 857.0,172.9 858.5,175.1 860.0,177.4 861.5,179.8 863.0,182.1 864.5,184.5 866.0,186.9 867.5,189.3 869.0,191.8 870.5,194.2 872.0,196.7 873.5,199.3 875.0,201.8 876.5,204.4 878.0,207.0 879.5,209.6 881.0,212.2 882.5,214.8 884.0,217.5 885.5,220.2 887.0,222.9 888.5,225.6 890.0,228.3 891.5,231.1 893.0,233.9 894.5,236.7 896.0,239.5 897.5,242.3 899.0,245.1 900.5,247.9 902.0,250.8 903.5,253.7 905.0,256.6 906.5,259.4 908.0,262.3 909.5,265.3 911.0,268.2 912.5,271.1 914.0,274.0 915.5,277.0 917.0,279.9 918.5,282.9 920.0,285.9 921.5,288.9 923.0,291.8 924.5,294.8 926.0,297.8 927.5,300.8 929.0,303.8 930.5,306.8 932.0,309.8 933.5,312.8 935.0,315.8 936.5,318.9 938.0,321.9 939.5,324.9 941.0,327.9 942.5,331.0 944.0,334.0 945.5,337.0 947.0,340.0 948.5,343.1 950.0,346.1 951.5,349.1 953.0,352.1 954.5,355.0 956.0,358.0 957.5,360.9 959.0,363.9 960.5,366.8 962.0,369.7 963.5,372.6 965.0,375.5 966.5,378.4 968.0,381.3 969.5,384.2 971.0,387.1 972.5,389.9 974.0,392.8 975.5,395.6 977.0,398.5 978.5,401.3 980.0,404.2 981.5,407.0 983.0,409.8 984.5,412.7 986.0,415.5 987.5,418.3 989.0,421.1 990.5,423.8 992.0,426.6 993.5,429.4 995.0,432.1 996.5,434.9 998.0,437.6 999.5,440.3 1001.0,443.0 1002.5,445.7 1004.0,448.4 1005.5,451.0 1007.0,453.7 1008.5,456.3 1010.0,458.9 1011.5,461.5 1013.0,464.1 1014.5,466.6 1016.0,469.2 1017.5,471.7 1019.0,474.2 1020.5,476.7 1022.0,479.1 1023.5,481.6 1025.0,484.0 1026.5,486.4 1028.0,488.8 1029.5,491.2 1031.0,493.5 1032.5,495.9 1034.0,498.2 1035.5,500.5 1037.0,502.7 1038.5,505.0 1040.0,507.2 1041.5,509.4 1043.0,511.6 1044.5,513.8 1046.0,515.9 1047.5,518.1 1049.0,520.2 1050.5,522.2 1052.0,524.3 1053.5,526.3 1055.0,528.4 1056.5,530.3 1058.0,532.3 1059.5,534.3 1061.0,536.2 1062.5,538.1 1064.0,540.0 1065.5,541.8 1067.0,543.7 1068.5,545.5 1070.0,547.3 1071.5,549.1 1073.0,550.9 1074.5,552.7 1076.0,554.5 1077.5,556.2 1079.0,557.9 1080.5,559.7 1082.0,561.4 1083.5,563.1 1085.0,564.8 1086.5,566.5 1088.0,568.1 1089.5,569.8 1091.0,571.5 1092.5,573.2 1094.0,574.8 1095.5,576.5 1097.0,578.1 1098.5,579.8 1100.0,581.4 1101.5,583.0 1103.0,584.7 1104.5,586.3 1106.0,587.9 1107.5,589.5 1109.0,591.1 1110.5,592.7 1112.0,594.3 1113.5,595.9 1115.0,597.5 1116.5,599.0 1118.0,600.6 1119.5,602.2 1121.0,603.7 1122.5,605.3 1124.0,606.8 1125.5,608.4 1127.0,609.9 1128.5,611.4 1130.0,612.9 1131.5,614.5 1133.0,616.0 1134.5,617.5 1136.0,619.0 1137.5,620.5 1139.0,621.9 1140.5,623.4 1142.0,624.9 1143.5,626.4 1145.0,627.8 1146.5,629.3 1148.0,630.7 1149.5,632.2 1151.0,633.6 1152.5,635.0 1154.0,636.4 1155.5,637.9 1157.0,639.3 1158.5,640.7 1160.0,642.1 1161.5,643.4 1163.0,644.8 1164.5,646.2 1166.0,647.6 1167.5,648.9 1169.0,650.3 1170.5,651.6 1172.0,653.0 1173.5,654.3 1175.0,655.6 1176.5,657.0 1178.0,658.3 1179.5,659.6 1181.0,660.9 1182.5,662.2 1184.0,663.5 1185.5,664.7 1187.0,666.0 1188.5,667.3 1190.0,668.5 1191.5,669.8 1193.0,671.0 1194.5,672.3 1196.0,673.5 1197.5,674.7 1199.0,675.9 1200.5,677.2 1202.0,678.4 1203.5,679.5 1205.0,680.7 1206.5,681.9 1208.0,683.1 1209.5,684.2 1211.0,685.4 1212.5,686.5 1214.0,687.7 1215.5,688.8 1217.0,689.9 1218.5,691.1 1220.0,692.2 1221.5,693.3 1223.0,694.4 1224.5,695.5 1226.0,696.5 1227.5,697.6 1229.0,698.7 1230.5,699.7 1232.0,700.8 1233.5,701.8 1235.0,702.8 1236.5,703.9 1238.0,704.9 1239.5,705.9 1241.0,706.9 1242.5,707.9 1244.0,708.9 1245.5,709.8 1247.0,710.8 1248.5,711.8 1250.0,712.7 1251.5,713.7 1253.0,714.6 1254.5,715.5 1256.0,716.5 1257.5,717.4 1259.0,718.3 1260.5,719.2 1262.0,720.1 1263.5,721.0 1265.0,721.8 1266.5,722.7 1268.0,723.6 1269.5,724.4 1271.0,725.3 1272.5,726.1 1274.0,727.0 1275.5,727.8 1277.0,728.6 1278.5,729.4 1280.0,730.3 1281.5,731.1 1283.0,731.9 1284.5,732.7 1286.0,733.5 1287.5,734.2 1289.0,735.0 1290.5,735.8 1292.0,736.5 1293.5,737.3 1295.0,738.1 1296.5,738.8 1298.0,739.6 1299.5,740.3 1301.0,741.0 1302.5,741.8 1304.0,742.5 1305.5,743.2 1307.0,743.9 1308.5,744.6 1310.0,745.3 1311.5,746.0 1313.0,746.7 1314.5,747.4 1316.0,748.1 1317.5,748.8 1319.0,749.4 1320.5,750.1 1322.0,750.8 1323.5,751.4 1325.0,752.1 1326.5,752.7 1328.0,753.4 1329.5,754.0 1331.0,754.7 1332.5,755.3 1334.0,756.0 1335.5,756.6 1337.0,757.2 1338.5,757.8 1340.0,758.5 1341.5,759.1 1343.0,759.7 1344.5,760.3 1346.0,760.9 1347.5,761.5 1349.0,762.1 1350.5,762.7 1352.0,763.3 1353.5,763.9 1355.0,764.5 1356.5,765.1 1358.0,765.7 1359.5,766.2 1361.0,766.8 1362.5,767.4 1364.0,768.0 1365.5,768.5 1367.0,769.1 1368.5,769.7 1370.0,770.3 1371.5,770.8 1373.0,771.4 1374.5,771.9 1376.0,772.5 1377.5,773.1 1379.0,773.6 1380.5,774.2 1382.0,774.7 1383.5,775.3 1385.0,775.8 1386.5,776.4 1388.0,776.9 1389.5,777.5 1391.0,778.0 1392.5,778.6 1394.0,779.1 1395.5,779.6 1397.0,780.2 1398.5,780.7 1400.0,781.3 1401.5,781.8 1403.0,782.3 1404.5,782.9 1406.0,783.4 1407.5,784.0 1409.0,784.5 1410.5,785.0 1412.0,785.6 1413.5,786.1 1415.0,786.6 1416.5,787.2 1418.0,787.7 1419.5,788.3 1421.0,788.8 1422.5,789.3 1424.0,789.9 1425.5,790.4 1427.0,791.0 1428.5,791.5 1430.0,792.1 1431.5,792.6 1433.0,793.1 1434.5,793.7 1436.0,794.2 1437.5,794.8 1439.0,795.3 1440.5,795.9 1442.0,796.4 1443.5,797.0 1445.0,797.5 1446.5,798.1 1448.0,798.7 1449.5,799.2 1451.0,799.8 1452.5,800.3 1454.0,800.9 1455.5,801.5 1457.0,802.1 1458.5,802.6 1460.0,803.2 1461.5,803.8 1463.0,804.4 1464.5,804.9 1466.0,805.5 1467.5,806.1 1469.0,806.7 1470.5,807.3 1472.0,807.9 1473.5,808.5 1475.0,809.1 1476.5,809.7 1478.0,810.3 1479.5,810.9 1481.0,811.5 1482.5,812.1 1484.0,812.7 1485.5,813.4 1487.0,814.0 1488.5,814.6 1490.0,815.3 1491.5,815.9 1493.0,816.5 1494.5,817.2"/>
<polyline stroke="#FF0080" points="170.0,250.9 171.5,253.8 173.0,256.6 174.5,259.3 176.0,262.0 177.5,264.5 179.0,267.0 180.5,269.4 182.0,271.7 183.5,274.0 185.0,276.2 186.5,278.4 188.0,280.5 189.5,282.6 191.0,284.6 192.5,286.6 194.0,288.6 195.5,290.6 197.0,292.5 198.5,294.5 200.0,296.4 201.5,298.3 203.0,300.3 204.5,302.2 206.0,304.1 207.5,306.1 209.0,308.1 210.5,310.1 212.0,312.2 213.5,314.3 215.0,316.4 216.5,318.6 218.0,320.8 219.5,323.0 221.0,325.2 222.5,327.5 224.0,329.8 225.5,332.1 227.0,334.5 228.5,336.8 230.0,339.2 231.5,341.6 233.0,344.0 234.5,346.4 236.0,348.9 237.5,351.3 239.0,353.8 240.5,356.2 242.0,358.7 243.5,361.1 245.0,363.5 246.5,366.0 248.0,368.4 249.5,370.9 251.0,373.3 252.5,375.7 254.0,378.1 255.5,380.5 257.0,382.8 258.5,385.2 260.0,387.5 261.5,389.8 263.0,392.1 264.5,394.3 266.0,396.6 267.5,398.8 269.0,400.9 270.5,403.1 272.0,405.2 273.5,407.2 275.0,409.2 276.5,411.2 278.0,413.1 279.5,415.0 281.0,416.9 282.5,418.6 284.0,420.4 285.5,422.1 287.0,423.7 288.5,425.3 290.0,426.8 291.5,428.3 293.0,429.7 294.5,431.1 296.0,432.4 297.5,433.6 299.0,434.8 300.5,436.0 302.0,437.1 303.5,438.1 305.0,439.1 306.5,440.0 308.0,440.9 309.5,441.7 311.0,442.5 312.5,443.3 314.0,443.9 315.5,444.6 317.0,445.2 318.5,445.7 320.0,446.2 321.5,446.6 323.0,447.0 324.5,447.3 326.0,447.6 327.5,447.8 329.0,448.0 330.5,448.1 332.0,448.2 333.5,448.3 335.0,448.3 336.5,448.2 338.0,448.1 339.5,448.0 341.0,447.8 342.5,447.5 344.0,447.3 345.5,446.9 347.0,446.5 348.5,446.1 350.0,445.7 351.5,445.1 353.0,444.6 354.5,444.0 356.0,443.3 357.5,442.6 359.0,441.9 360.5,441.1 362.0,440.3 363.5,439.5 365.0,438.6 366.5,437.6 368.0,436.6 369.5,435.6 371.0,434.5 372.5,433.4 374.0,432.2 375.5,431.0 377.0,429.8 378.5,428.5 380.0,427.2 381.5,425.9 383.0,424.5 384.5,423.0 386.0,421.5 387.5,420.0 389.0,418.5 390.5,416.9 392.0,415.2 393.5,413.6 395.0,411.9 396.5,410.1 398.0,408.3 399.5,406.5 401.0,404.7 402.5,402.8 404.0,400.9 405.5,399.0 407.0,397.0 408.5,395.0 410.0,392.9 411.5,390.9 413.0,388.8 414.5,386.7 416.0,384.5 417.5,382.4 419.0,380.2 420.5,377.9 422.0,375.7 423.5,373.4 425.0,371.1 426.5,368.8 428.0,366.5 429.5,364.1 431.0,361.7 432.5,359.4 434.0,356.9 435.5,354.5 437.0,352.1 438.5,349.6 440.0,347.1 441.5,344.6 443.0,342.1 444.5,339.6 446.0,337.1 447.5,334.5 449.0,332.0 450.5,329.4 452.0,326.8 453.5,324.2 455.0,321.7 456.5,319.1 458.0,316.4 459.5,313.8 461.0,311.2 462.5,308.6 464.0,306.0 465.5,303.3 467.0,300.7 468.5,298.1 470.0,295.4 471.5,292.8 473.0,290.1 474.5,287.5 476.0,284.9 477.5,282.2 479.0,279.6 480.5,277.0 482.0,274.4 483.5,271.7 485.0,269.1 486.5,266.5 488.0,263.9 489.5,261.4 491.0,258.8 492.5,256.2 494.0,253.6 495.5,251.1 497.0,248.5 498.5,246.0 500.0,243.5 501.5,241.0 503.0,238.5 504.5,236.0 506.0,233.5 507.5,231.0 509.0,228.6 510.5,226.1 512.0,223.7 513.5,221.2 515.0,218.8 516.5,216.4 518.0,214.0 519.5,211.6 521.0,209.2 522.5,206.9 524.0,204.5 525.5,202.2 527.0,199.9 528.5,197.6 530.0,195.3 531.5,193.0 533.0,190.7 534.5,188.4 536.0,186.2 537.5,184.0 539.0,181.7 540.5,179.5 542.0,177.3 543.5,175.1 545.0,173.0 546.5,170.8 548.0,168.7 549.5,166.6 551.0,164.5 552.5,162.4 554.0,160.3 555.5,158.2 557.0,156.2 558.5,154.1 560.0,152.1 561.5,150.1 563.0,148.1 564.5,146.2 566.0,144.2 567.5,142.3 569.0,140.4 570.5,138.5 572.0,136.6 573.5,134.7 575.0,132.8 576.5,131.0 578.0,129.2 579.5,127.4 581.0,125.6 582.5,123.8 584.0,122.1 585.5,120.4 587.0,118.6 588.5,116.9 590.0,115.3 591.5,113.6 593.0,112.0 594.5,110.4 596.0,108.8 597.5,107.2 599.0,105.6 600.5,104.1 602.0,102.5 603.5,101.0 605.0,99.6 606.5,98.1 608.0,96.7 609.5,95.2 611.0,93.8 612.5,92.4 614.0,91.1 615.5,89.7 617.0,88.4 618.5,87.1 620.0,85.8 621.5,84.6 623.0,83.3 624.5,82.1 626.0,80.9 627.5,79.7 629.0,78.5 630.5,77.4 632.0,76.3 633.5,75.2 635.0,74.1 636.5,73.0 638.0,72.0 639.5,71.0 641.0,70.0 642.5,69.0 644.0,68.0 645.5,67.1 647.0,66.2 648.5,65.3 650.0,64.4 651.5,63.6 653.0,62.7 654.5,61.9 656.0,61.1 657.5,60.4 659.0,59.6 660.5,58.9 662.0,58.2 663.5,57.5 665.0,56.8 666.5,56.2 668.0,55.5 669.5,54.9 671.0,54.4 672.5,53.8 674.0,53.3 675.5,52.7 677.0,52.2 678.5,51.8 680.0,51.3 681.5,50.9 683.0,50.5 684.5,50.1 686.0,49.7 687.5,49.3 689.0,49.0 690.5,48.7 692.0,48.4 693.5,48.2 695.0,47.9 696.5,47.7 698.0,47.5 699.5,47.3 701.0,47.2 702.5,47.0 704.0,46.9 705.5,46.8 707.0,46.8 708.5,46.7 710.0,46.7 711.5,46.7 713.0,46.7 714.5,46.7 716.0,46.8 717.5,46.9 719.0,47.0 720.5,47.1 722.0,47.3 723.5,47.4 725.0,47.6 726.5,47.8 728.0,48.1 729.5,48.3 731.0,48.6 732.5,48.9 734.0,49.3 735.5,49.6 737.0,50.0 738.5,50.4 740.0,50.8 741.5,51.2 743.0,51.7 744.5,52.2 746.0,52.7 747.5,53.2 749.0,53.8 750.5,54.4 752.0,55.0 753.5,55.6 755.0,56.2 756.5,56.9 758.0,57.6 759.5,58.3 761.0,59.0 762.5,59.8 764.0,60.6 765.5,61.4 767.0,62.2 768.5,63.1 770.0,63.9 771.5,64.8 773.0,65.8 774.5,66.7 776.0,67.7 777.5,68.7 779.0,69.7 780.5,70.7 782.0,71.8 783.5,72.9 785.0,74.0 786.5,75.1 788.0,76.3 789.5,77.5 791.0,78.7 792.5,79.9 794.0,81.2 795.5,82.5 797.0,83.8 798.5,85.1 800.0,86.5 801.5,87.8 803.0,89.2 804.5,90.7 806.0,92.1 807.5,93.6 809.0,95.1 810.5,96.6 812.0,98.2 813.5,99.7 815.0,101.3 816.5,103.0 818.0,104.6 819.5,106.3 821.0,108.0 822.5,109.7 824.0,111.4 825.5,113.2 827.0,115.0 828.5,116.8 830.0,118.7 831.5,120.5 833.0,122.4 834.5,124.4 836.0,126.3 837.5,128.3 839.0,130.3 840.5,132.3 842.0,134.3 843.5,136.4 845.0,138.5 846.5,140.6 848.0,142.8 849.5,145.0 851.0,147.2 852.5,149.4 854.0,151.7 855.5,153.9 857.0,156.2 858.5,158.6 860.0,160.9 861.5,163.3 863.0,165.7 864.5,168.1 866.0,170.6 867.5,173.1 869.0,175.6 870.5,178.1 872.0,180.7 873.5,183.3 875.0,185.9 876.5,188.5 878.0,191.2 879.5,193.9 881.0,196.6 882.5,199.3 884.0,202.0 885.5,204.8 887.0,207.6 888.5,210.4 890.0,213.2 891.5,216.0 893.0,218.9 894.5,221.7 896.0,224.6 897.5,227.5 899.0,230.4 900.5,233.3 902.0,236.2 903.5,239.2 905.0,242.1 906.5,245.1 908.0,248.0 909.5,251.0 911.0,254.0 912.5,257.0 914.0,260.0 915.5,263.0 917.0,266.0 918.5,269.0 920.0,272.0 921.5,275.0 923.0,278.1 924.5,281.1 926.0,284.1 927.5,287.2 929.0,290.2 930.5,293.2 932.0,296.3 933.5,299.3 935.0,302.4 936.5,305.4 938.0,308.4 939.5,311.5 941.0,314.5 942.5,317.6 944.0,320.6 945.5,323.6 947.0,326.7 948.5,329.7 950.0,332.7 951.5,335.8 953.0,338.8 954.5,341.8 956.0,344.8 957.5,347.8 959.0,350.9 960.5,353.9 962.0,356.9 963.5,359.9 965.0,362.8 966.5,365.8 968.0,368.8 969.5,371.8 971.0,374.7 972.5,377.7 974.0,380.6 975.5,383.6 977.0,386.5 978.5,389.4 980.0,392.3 981.5,395.2 983.0,398.1 984.5,401.0 986.0,403.9 987.5,406.8 989.0,409.6 990.5,412.5 992.0,415.3 993.5,418.1 995.0,420.9 996.5,423.7 998.0,426.5 999.5,429.3 1001.0,432.0 1002.5,434.8 1004.0,437.5 1005.5,440.2 1007.0,442.9 1008.5,445.6 1010.0,448.2 1011.5,450.9 1013.0,453.5 1014.5,456.2 1016.0,458.8 1017.5,461.3 1019.0,463.9 1020.5,466.5 1022.0,469.0 1023.5,471.5 1025.0,474.0 1026.5,476.5 1028.0,478.9 1029.5,481.4 1031.0,483.8 1032.5,486.2 1034.0,488.6 1035.5,490.9 1037.0,493.3 1038.5,495.6 1040.0,497.9 1041.5,500.1 1043.0,502.4 1044.5,504.6 1046.0,506.8 1047.5,509.0 1049.0,511.1 1050.5,513.3 1052.0,515.4 1053.5,517.5 1055.0,519.5 1056.5,521.5 1058.0,523.5 1059.5,525.5 1061.0,527.5 1062.5,529.4 1064.0,531.3 1065.5,533.2 1067.0,535.1 1068.5,537.0 1070.0,538.8 1071.5,540.6 1073.0,542.4 1074.5,544.2 1076.0,546.0 1077.5,547.7 1079.0,549.5 1080.5,551.2 1082.0,553.0 1083.5,554.7 1085.0,556.4 1086.5,558.1 1088.0,559.8 1089.5,561.5 1091.0,563.2 1092.5,564.8 1094.0,566.5 1095.5,568.2 1097.0,569.9 1098.5,571.5 1100.0,573.2 1101.5,574.9 1103.0,576.5 1104.5,578.1 1106.0,579.8 1107.5,581.4 1109.0,583.1 1110.5,584.7 1112.0,586.3 1113.5,587.9 1115.0,589.5 1116.5,591.1 1118.0,592.7 1119.5,594.3 1121.0,595.9 1122.5,597.5 1124.0,599.1 1125.5,600.7 1127.0,602.2 1128.5,603.8 1130.0,605.3 1131.5,606.9 1133.0,608.4 1134.5,610.0 1136.0,611.5 1137.5,613.0 1139.0,614.6 1140.5,616.1 1142.0,617.6 1143.5,619.1 1145.0,620.6 1146.5,622.1 1148.0,623.6 1149.5,625.1 1151.0,626.5 1152.5,628.0 1154.0,629.5 1155.5,630.9 1157.0,632.4 1158.5,633.8 1160.0,635.3 1161.5,636.7 1163.0,638.1 1164.5,639.5 1166.0,640.9 1167.5,642.3 1169.0,643.7 1170.5,645.1 1172.0,646.5 1173.5,647.9 1175.0,649.3 1176.5,650.6 1178.0,652.0 1179.5,653.3 1181.0,654.7 1182.5,656.0 1184.0,657.3 1185.5,658.7 1187.0,660.0 1188.5,661.3 1190.0,662.6 1191.5,663.9 1193.0,665.2 1194.5,666.4 1196.0,667.7 1197.5,669.0 1199.0,670.2 1200.5,671.5 1202.0,672.7 1203.5,674.0 1205.0,675.2 1206.5,676.4 1208.0,677.6 1209.5,678.8 1211.0,680.0 1212.5,681.2 1214.0,682.4 1215.5,683.5 1217.0,684.7 1218.5,685.8 1220.0,687.0 1221.5,688.1 1223.0,689.3 1224.5,690.4 1226.0,691.5 1227.5,692.6 1229.0,693.7 1230.5,694.8 1232.0,695.9 1233.5,696.9 1235.0,698.0 1236.5,699.0 1238.0,700.1 1239.5,701.1 1241.0,702.1 1242.5,703.2 1244.0,704.2 1245.5,705.2 1247.0,706.2 1248.5,707.2 1250.0,708.1 1251.5,709.1 1253.0,710.1 1254.5,711.0 1256.0,711.9 1257.5,712.9 1259.0,713.8 1260.5,714.7 1262.0,715.6 1263.5,716.5 1265.0,717.4 1266.5,718.3 1268.0,719.2 1269.5,720.1 1271.0,721.0 1272.5,721.8 1274.0,722.7 1275.5,723.5 1277.0,724.4 1278.5,725.2 1280.0,726.0 1281.5,726.8 1283.0,727.6 1284.5,728.5 1286.0,729.3 1287.5,730.1 1289.0,730.8 1290.5,731.6 1292.0,732.4 1293.5,733.2 1295.0,733.9 1296.5,734.7 1298.0,735.4 1299.5,736.2 1301.0,736.9 1302.5,737.7 1304.0,738.4 1305.5,739.1 1307.0,739.8 1308.5,740.6 1310.0,741.3 1311.5,742.0 1313.0,742.7 1314.5,743.4 1316.0,744.0 1317.5,744.7 1319.0,745.4 1320.5,746.1 1322.0,746.8 1323.5,747.4 1325.0,748.1 1326.5,748.8 1328.0,749.4 1329.5,750.1 1331.0,750.7 1332.5,751.3 1334.0,752.0 1335.5,752.6 1337.0,753.3 1338.5,753.9 1340.0,754.5 1341.5,755.1 1343.0,755.7 1344.5,756.4 1346.0,757.0 1347.5,757.6 1349.0,758.2 1350.5,758.8 1352.0,759.4 1353.5,760.0 1355.0,760.6 1356.5,761.2 1358.0,761.8 1359.5,762.3 1361.0,762.9 1362.5,763.5 1364.0,764.1 1365.5,764.7 1367.0,765.3 1368.5,765.8 1370.0,766.4 1371.5,767.0 1373.0,767.5 1374.5,768.1 1376.0,768.7 1377.5,769.2 1379.0,769.8 1380.5,770.4 1382.0,770.9 1383.5,771.5 1385.0,772.0 1386.5,772.6 1388.0,773.2 1389.5,773.7 1391.0,774.3 1392.5,774.8 1394.0,775.4 1395.5,775.9 1397.0,776.5 1398.5,777.0 1400.0,777.6 1401.5,778.1 1403.0,778.7 1404.5,779.2 1406.0,779.8 1407.5,780.3 1409.0,780.9 1410.5,781.5 1412.0,782.0 1413.5,782.6 1415.0,783.1 1416.5,783.7 1418.0,784.2 1419.5,784.8 1421.0,785.3 1422.5,785.9 1424.0,786.5 1425.5,787.0 1427.0,787.6 1428.5,788.1 1430.0,788.7 1431.5,789.3 1433.0,789.8 1434.5,790.4 1436.0,791.0 1437.5,791.6 1439.0,792.1 1440.5,792.7 1442.0,793.3 1443.5,793.9 1445.0,794.5 1446.5,795.0 1448.0,795.6 1449.5,796.2 1451.0,796.8 1452.5,797.4 1454.0,798.0 1455.5,798.6 1457.0,799.2 1458.5,799.8 1460.0,800.4 1461.5,801.0 1463.0,801.7 1464.5,802.3 1466.0,802.9 1467.5,803.5 1469.0,804.2 1470.5,804.8 1472.0,805.4 1473.5,806.1 1475.0,806.7 1476.5,807.4 1478.0,808.0 1479.5,808.7 1481.0,809.3 1482.5,810.0 1484.0,810.7 1485.5,811.3 1487.0,812.0 1488.5,812.7 1490.0,813.4 1491.5,814.1 1493.0,814.8 1494.5,815.5"/>
</g>
<line x1="182" y1="715.3" x2="202.5" y2="715.3" stroke="#000" stroke-width="8.5"/>
<line x1="182" y1="534.2" x2="202.5" y2="534.2" stroke="#000" stroke-width="8.5"/>
<line x1="182" y1="353.1" x2="202.5" y2="353.1" stroke="#000" stroke-width="8.5"/>
<line x1="182" y1="172.0" x2="202.5" y2="172.0" stroke="#000" stroke-width="8.5"/>
<line x1="182" y1="805.9" x2="192.5" y2="805.9" stroke="#000" stroke-width="7.5"/>
<line x1="182" y1="624.8" x2="192.5" y2="624.8" stroke="#000" stroke-width="7.5"/>
<line x1="182" y1="443.7" x2="192.5" y2="443.7" stroke="#000" stroke-width="7.5"/>
<line x1="182" y1="262.6" x2="192.5" y2="262.6" stroke="#000" stroke-width="7.5"/>
<line x1="182" y1="81.5" x2="192.5" y2="81.5" stroke="#000" stroke-width="7.5"/>
<line x1="371.7" y1="849" x2="371.7" y2="829.5" stroke="#000" stroke-width="8.5"/>
<line x1="756.2" y1="849" x2="756.2" y2="829.5" stroke="#000" stroke-width="8.5"/>
<line x1="1140.8" y1="849" x2="1140.8" y2="829.5" stroke="#000" stroke-width="8.5"/>
<line x1="564.0" y1="849" x2="564.0" y2="840" stroke="#000" stroke-width="7.5"/>
<line x1="948.5" y1="849" x2="948.5" y2="840" stroke="#000" stroke-width="7.5"/>
<line x1="1333.1" y1="849" x2="1333.1" y2="840" stroke="#000" stroke-width="7.5"/>
<g transform="matrix(1.05422,0,0,1.00000,-6.295,0.000)"><text transform="matrix(0.61620,0,0,0.47425,68.424,179.814)" font-family='"Liberation Sans", sans-serif' font-weight="bold" font-style="normal" font-size="100" fill="#000" stroke="#000" stroke-width="3" stroke-linejoin="round">0.8</text></g>
<g transform="matrix(1.06098,0,0,0.98529,-7.329,5.309)"><text transform="matrix(0.61268,0,0,0.45393,68.919,359.865)" font-family='"Liberation Sans", sans-serif' font-weight="bold" font-style="normal" font-size="100" fill="#000" stroke="#000" stroke-width="3" stroke-linejoin="round">0.6</text></g>
<g transform="matrix(1.03614,0,0,0.98649,-5.566,7.824)"><text transform="matrix(0.60563,0,0,0.49458,68.908,541.264)" font-family='"Liberation Sans", sans-serif' font-weight="bold" font-style="normal" font-size="100" fill="#000" stroke="#000" stroke-width="3" stroke-linejoin="round">0.4</text></g>
<g transform="matrix(1.06173,0,0,0.99412,-7.383,4.059)"><text transform="matrix(0.60563,0,0,0.45799,68.908,722.655)" font-family='"Liberation Sans", sans-serif' font-weight="bold" font-style="normal" font-size="100" fill="#000" stroke="#000" stroke-width="3" stroke-linejoin="round">0.2</text></g>
<g transform="matrix(1.03883,0,0,1.02286,-13.350,-20.863)"><text transform="matrix(0.63015,0,0,0.48509,317.945,902.587)" font-family='"Liberation Sans", sans-serif' font-weight="bold" font-style="normal" font-size="100" fill="#000" stroke="#000" stroke-width="3" stroke-linejoin="round">400</text></g>
<g transform="matrix(1.04653,0,0,1.00286,-34.807,-2.883)"><text transform="matrix(0.62250,0,0,0.47561,703.934,902.511)" font-family='"Liberation Sans", sans-serif' font-weight="bold" font-style="normal" font-size="100" fill="#000" stroke="#000" stroke-width="3" stroke-linejoin="round">500</text></g>
<g transform="matrix(1.04902,0,0,1.00286,-55.333,-2.883)"><text transform="matrix(0.63015,0,0,0.47561,1086.945,902.511)" font-family='"Liberation Sans", sans-serif' font-weight="bold" font-style="normal" font-size="100" fill="#000" stroke="#000" stroke-width="3" stroke-linejoin="round">600</text></g>
<g transform="matrix(1.01413,0,0,1.00000,-12.687,0.000)"><text transform="matrix(0.77889,0,0,0.58824,448.426,975.706)" font-family='"Liberation Sans", sans-serif' font-weight="bold" font-style="italic" font-size="100" fill="#000" stroke="#000" stroke-width="7" stroke-linejoin="round">Wavelength (nm.)</text></g>
<g transform="matrix(1.00000,0,0,1.01913,0.000,-6.169)"><text transform="matrix(0,-0.66205,0.60927,0,49.781,588.338)" font-family='"Liberation Sans", sans-serif' font-weight="bold" font-style="normal" font-size="100" fill="#000" stroke="#000" stroke-width="2" stroke-linejoin="round">Reflectance</text></g>
<g transform="matrix(1.09643,0,0,1.00000,-54.746,0.000)"><text transform="matrix(0.63299,0,0,0.51136,545.000,309.000)" font-family='"Liberation Serif", serif' font-weight="normal" font-style="normal" font-size="100" fill="#000">λ</text></g>
<g transform="matrix(1.02000,0,0,1.05806,-13.900,-16.684)"><text transform="matrix(0.59443,0,0,0.45055,593.594,308.299)" font-family='"Liberation Sans", sans-serif' font-weight="bold" font-style="normal" font-size="100" fill="#000" stroke="#000" stroke-width="2" stroke-linejoin="round">at 485 nm</text></g>
<g transform="matrix(1.03000,0,0,1.01020,-19.310,-4.384)"><text transform="matrix(0.69762,0,0,0.51941,524.198,447.977)" font-family='"Liberation Sans", sans-serif' font-weight="bold" font-style="italic" font-size="100" fill="#0a0a82" stroke="#0a0a82" stroke-width="2" stroke-linejoin="round">Cycle No.</text></g>
<rect x="385.9" y="476.7" width="612.6" height="341.3" fill="none" stroke="#000" stroke-width="3"/>
<rect x="394.50" y="480.00" width="83" height="337.50" fill="url(#g0H)"/><polygon points="394.50,480.00 477.50,480.00 436.00,648.75" fill="url(#g0T)"/><polygon points="394.50,817.50 477.50,817.50 436.00,648.75" fill="url(#g0B)"/>
<rect x="394.5" y="480.0" width="83" height="337.5" fill="none" stroke="#103818" stroke-width="3"/>
<line x1="436.0" y1="817" x2="436.0" y2="809" stroke="#000" stroke-width="4"/>
<rect x="496.70" y="488.50" width="83" height="329.00" fill="url(#g1H)"/><polygon points="496.70,488.50 579.70,488.50 538.20,653.00" fill="url(#g1T)"/><polygon points="496.70,817.50 579.70,817.50 538.20,653.00" fill="url(#g1B)"/>
<rect x="496.7" y="488.5" width="83" height="329.0" fill="none" stroke="#000830" stroke-width="3"/>
<line x1="538.2" y1="817" x2="538.2" y2="809" stroke="#000" stroke-width="4"/>
<rect x="599.30" y="493.50" width="83" height="324.00" fill="url(#g2H)"/><polygon points="599.30,493.50 682.30,493.50 640.80,655.50" fill="url(#g2T)"/><polygon points="599.30,817.50 682.30,817.50 640.80,655.50" fill="url(#g2B)"/>
<rect x="599.3" y="493.5" width="83" height="324.0" fill="none" stroke="#184848" stroke-width="3"/>
<line x1="640.8" y1="817" x2="640.8" y2="809" stroke="#000" stroke-width="4"/>
<rect x="702.00" y="498.80" width="83" height="318.70" fill="url(#g3H)"/><polygon points="702.00,498.80 785.00,498.80 743.50,658.15" fill="url(#g3T)"/><polygon points="702.00,817.50 785.00,817.50 743.50,658.15" fill="url(#g3B)"/>
<rect x="702.0" y="498.8" width="83" height="318.7" fill="none" stroke="#500050" stroke-width="3"/>
<line x1="743.5" y1="817" x2="743.5" y2="809" stroke="#000" stroke-width="4"/>
<rect x="806.70" y="506.00" width="83" height="311.50" fill="url(#g4H)"/><polygon points="806.70,506.00 889.70,506.00 848.20,661.75" fill="url(#g4T)"/><polygon points="806.70,817.50 889.70,817.50 848.20,661.75" fill="url(#g4B)"/>
<rect x="806.7" y="506.0" width="83" height="311.5" fill="none" stroke="#282800" stroke-width="3"/>
<line x1="848.2" y1="817" x2="848.2" y2="809" stroke="#000" stroke-width="4"/>
<rect x="906.50" y="522.40" width="83" height="295.10" fill="url(#g5H)"/><polygon points="906.50,522.40 989.50,522.40 948.00,669.95" fill="url(#g5T)"/><polygon points="906.50,817.50 989.50,817.50 948.00,669.95" fill="url(#g5B)"/>
<rect x="906.5" y="522.4" width="83" height="295.1" fill="none" stroke="#181800" stroke-width="3"/>
<line x1="948.0" y1="817" x2="948.0" y2="809" stroke="#000" stroke-width="4"/>
<line x1="387" y1="784.1" x2="395" y2="784.1" stroke="#000" stroke-width="2.8"/>
<line x1="387" y1="750.8" x2="395" y2="750.8" stroke="#000" stroke-width="2.8"/>
<line x1="387" y1="717.4" x2="395" y2="717.4" stroke="#000" stroke-width="2.8"/>
<line x1="387" y1="684.0" x2="395" y2="684.0" stroke="#000" stroke-width="2.8"/>
<line x1="387" y1="650.6" x2="395" y2="650.6" stroke="#000" stroke-width="2.8"/>
<line x1="387" y1="617.3" x2="395" y2="617.3" stroke="#000" stroke-width="2.8"/>
<line x1="387" y1="583.9" x2="395" y2="583.9" stroke="#000" stroke-width="2.8"/>
<line x1="387" y1="550.5" x2="395" y2="550.5" stroke="#000" stroke-width="2.8"/>
<line x1="387" y1="517.2" x2="395" y2="517.2" stroke="#000" stroke-width="2.8"/>
<g transform="matrix(1.00962,0,0,1.05217,-3.654,-28.204)"><text transform="matrix(0.47001,0,0,0.33941,327.618,554.276)" font-family='"Liberation Sans", sans-serif' font-weight="bold" font-style="italic" font-size="100" fill="#000" stroke="#000" stroke-width="0.5" stroke-linejoin="round">80</text></g>
<g transform="matrix(1.03922,0,0,1.01538,-14.941,-9.169)"><text transform="matrix(0.47449,0,0,0.37027,328.119,621.937)" font-family='"Liberation Sans", sans-serif' font-weight="bold" font-style="italic" font-size="100" fill="#000" stroke="#000" stroke-width="0.5" stroke-linejoin="round">60</text></g>
<g transform="matrix(1.00943,0,0,1.02593,-3.594,-17.163)"><text transform="matrix(0.47178,0,0,0.38850,328.420,689.214)" font-family='"Liberation Sans", sans-serif' font-weight="bold" font-style="italic" font-size="100" fill="#000" stroke="#000" stroke-width="0.5" stroke-linejoin="round">40</text></g>
<g transform="matrix(1.00000,0,0,1.05417,0.000,-41.004)"><text transform="matrix(0.49426,0,0,0.35484,325.914,756.556)" font-family='"Liberation Sans", sans-serif' font-weight="bold" font-style="italic" font-size="100" fill="#000" stroke="#000" stroke-width="0.5" stroke-linejoin="round">20</text></g>
<g transform="matrix(1.13043,0,0,1.05000,-48.565,-41.000)"><text transform="matrix(0.46346,0,0,0.35344,355.116,823.758)" font-family='"Liberation Sans", sans-serif' font-weight="bold" font-style="italic" font-size="100" fill="#000" stroke="#000" stroke-width="0.5" stroke-linejoin="round">0</text></g>
<g transform="matrix(1.00488,0,0,1.16364,-2.224,-107.164)"><text transform="matrix(0,-0.45390,0.59195,0,455.763,661.818)" font-family='"Liberation Sans", sans-serif' font-weight="bold" font-style="italic" font-size="100" fill="#000" stroke="#000" stroke-width="0.8" stroke-linejoin="round">1</text></g>
<g transform="matrix(1.00000,0,0,1.02632,0.000,-17.605)"><text transform="matrix(0,-0.67241,0.60907,0,564.756,667.655)" font-family='"Liberation Sans", sans-serif' font-weight="bold" font-style="italic" font-size="100" fill="#000" stroke="#000" stroke-width="0.8" stroke-linejoin="round">2</text></g>
<g transform="matrix(0.97619,0,0,1.05278,15.529,-34.519)"><text transform="matrix(0,-0.67199,0.57263,0,667.798,673.731)" font-family='"Liberation Sans", sans-serif' font-weight="bold" font-style="italic" font-size="100" fill="#000" stroke="#000" stroke-width="0.8" stroke-linejoin="round">3</text></g>
<g transform="matrix(0.99512,0,0,1.04737,4.251,-31.853)"><text transform="matrix(0,-0.68503,0.58621,0,769.266,682.061)" font-family='"Liberation Sans", sans-serif' font-weight="bold" font-style="italic" font-size="100" fill="#000" stroke="#000" stroke-width="0.8" stroke-linejoin="round">4</text></g>
<g transform="matrix(0.96190,0,0,1.09118,32.767,-59.018)"><text transform="matrix(0,-0.65088,0.56425,0,866.910,680.540)" font-family='"Liberation Sans", sans-serif' font-weight="bold" font-style="italic" font-size="100" fill="#000" stroke="#000" stroke-width="0.8" stroke-linejoin="round">6</text></g>
<g transform="matrix(1.01000,0,0,1.03333,-10.030,-22.133)"><text transform="matrix(0,-0.65957,0.56425,0,971.910,685.436)" font-family='"Liberation Sans", sans-serif' font-weight="bold" font-style="italic" font-size="100" fill="#000" stroke="#000" stroke-width="0.8" stroke-linejoin="round">8</text></g>
<g transform="matrix(1.02326,0,0,1.04186,-7.093,-27.793)"><text transform="matrix(0,-0.63818,0.63037,0,304.685,695.981)" font-family='"Liberation Sans", sans-serif' font-weight="bold" font-style="italic" font-size="100" fill="#0a0a82" stroke="#0a0a82" stroke-width="1" stroke-linejoin="round">E</text></g>
<g transform="matrix(0.97917,0,0,1.13056,6.417,-80.778)"><text transform="matrix(0,-0.45273,0.66197,0,307.272,647.074)" font-family='"Liberation Sans", sans-serif' font-weight="normal" font-style="italic" font-size="100" fill="#0a0a82" stroke="#0a0a82" stroke-width="1" stroke-linejoin="round">%</text></g>
</svg></body></html>
